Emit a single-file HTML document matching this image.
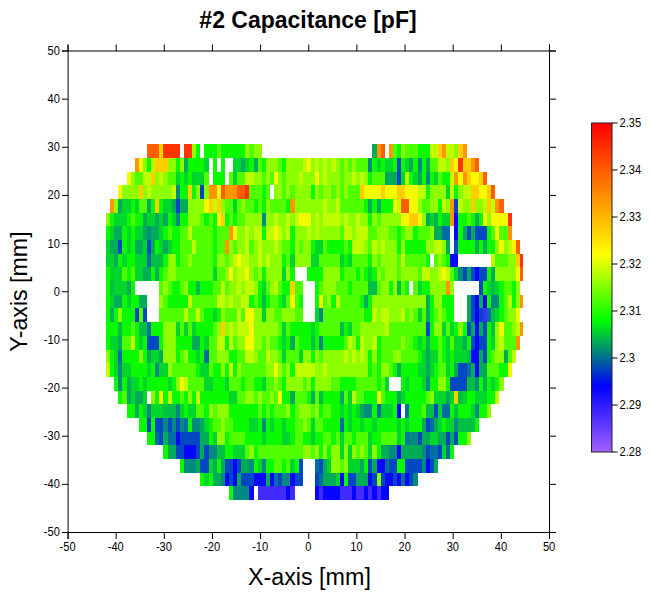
<!DOCTYPE html>
<html><head><meta charset="utf-8"><title>#2 Capacitance [pF]</title>
<style>
html,body{margin:0;padding:0;background:#fff;}
body{width:651px;height:600px;overflow:hidden;font-family:"Liberation Sans",sans-serif;}
svg{display:block;}
text{font-family:"Liberation Sans",sans-serif;fill:#000;}
</style></head><body>
<svg width="651" height="600" viewBox="0 0 651 600">
<defs>
<linearGradient id="cb" x1="0" y1="0" x2="0" y2="1">
<stop offset="0" stop-color="#ff0000"/>
<stop offset="0.2" stop-color="#ff8000"/>
<stop offset="0.4" stop-color="#ffff00"/>
<stop offset="0.6" stop-color="#00ff00"/>
<stop offset="0.7" stop-color="#008080"/>
<stop offset="0.8" stop-color="#0000ff"/>
<stop offset="1" stop-color="#a060ff"/>
</linearGradient>
</defs>
<rect width="651" height="600" fill="#fff"/>
<g shape-rendering="crispEdges">
<rect x="147.04" y="144.2" width="12.29" height="13.69" fill="#ff5f00"/>
<rect x="159.33" y="144.2" width="4.1" height="13.69" fill="#ffcd00"/>
<rect x="163.43" y="144.2" width="16.39" height="13.69" fill="#ff3400"/>
<rect x="183.92" y="144.2" width="8.2" height="13.69" fill="#ff3400"/>
<rect x="192.12" y="144.2" width="4.1" height="13.69" fill="#8eff00"/>
<rect x="196.22" y="144.2" width="4.09" height="13.69" fill="#0afa00"/>
<rect x="204.41" y="144.2" width="12.3" height="13.69" fill="#0afa00"/>
<rect x="216.71" y="144.2" width="4.09" height="13.69" fill="#50ff00"/>
<rect x="220.8" y="144.2" width="24.59" height="13.69" fill="#0afa00"/>
<rect x="245.39" y="144.2" width="4.1" height="13.69" fill="#8eff00"/>
<rect x="249.49" y="144.2" width="4.1" height="13.69" fill="#50ff00"/>
<rect x="253.59" y="144.2" width="8.19" height="13.69" fill="#8eff00"/>
<rect x="372.43" y="144.2" width="4.1" height="13.69" fill="#00ac58"/>
<rect x="376.53" y="144.2" width="4.1" height="13.69" fill="#ff9600"/>
<rect x="380.63" y="144.2" width="4.09" height="13.69" fill="#ff5f00"/>
<rect x="388.82" y="144.2" width="4.1" height="13.69" fill="#ff9600"/>
<rect x="392.92" y="144.2" width="4.1" height="13.69" fill="#50ff00"/>
<rect x="397.02" y="144.2" width="4.1" height="13.69" fill="#0afa00"/>
<rect x="401.12" y="144.2" width="4.09" height="13.69" fill="#8eff00"/>
<rect x="405.21" y="144.2" width="12.3" height="13.69" fill="#50ff00"/>
<rect x="417.51" y="144.2" width="12.29" height="13.69" fill="#0afa00"/>
<rect x="429.8" y="144.2" width="8.2" height="13.69" fill="#c0ff00"/>
<rect x="438" y="144.2" width="4.1" height="13.69" fill="#ffcd00"/>
<rect x="442.1" y="144.2" width="4.09" height="13.69" fill="#ff9600"/>
<rect x="446.19" y="144.2" width="8.2" height="13.69" fill="#c0ff00"/>
<rect x="454.39" y="144.2" width="4.1" height="13.69" fill="#8eff00"/>
<rect x="458.49" y="144.2" width="4.1" height="13.69" fill="#ffcd00"/>
<rect x="462.59" y="144.2" width="4.09" height="13.69" fill="#ff9600"/>
<rect x="134.75" y="157.89" width="4.09" height="13.69" fill="#ff9600"/>
<rect x="138.84" y="157.89" width="4.1" height="13.69" fill="#f6fa00"/>
<rect x="142.94" y="157.89" width="4.1" height="13.69" fill="#8eff00"/>
<rect x="147.04" y="157.89" width="4.1" height="13.69" fill="#0afa00"/>
<rect x="151.14" y="157.89" width="4.1" height="13.69" fill="#c0ff00"/>
<rect x="155.24" y="157.89" width="12.29" height="13.69" fill="#ffcd00"/>
<rect x="167.53" y="157.89" width="8.2" height="13.69" fill="#8eff00"/>
<rect x="175.73" y="157.89" width="4.09" height="13.69" fill="#0afa00"/>
<rect x="179.82" y="157.89" width="4.1" height="13.69" fill="#8eff00"/>
<rect x="183.92" y="157.89" width="4.1" height="13.69" fill="#00ac58"/>
<rect x="188.02" y="157.89" width="16.39" height="13.69" fill="#0afa00"/>
<rect x="204.41" y="157.89" width="4.1" height="13.69" fill="#00d72d"/>
<rect x="212.61" y="157.89" width="4.1" height="13.69" fill="#0afa00"/>
<rect x="220.8" y="157.89" width="4.1" height="13.69" fill="#0afa00"/>
<rect x="233.1" y="157.89" width="8.19" height="13.69" fill="#00d72d"/>
<rect x="241.29" y="157.89" width="4.1" height="13.69" fill="#00ac58"/>
<rect x="245.39" y="157.89" width="4.1" height="13.69" fill="#00d72d"/>
<rect x="249.49" y="157.89" width="4.1" height="13.69" fill="#0afa00"/>
<rect x="253.59" y="157.89" width="4.1" height="13.69" fill="#00ac58"/>
<rect x="257.69" y="157.89" width="4.09" height="13.69" fill="#50ff00"/>
<rect x="261.78" y="157.89" width="4.1" height="13.69" fill="#0afa00"/>
<rect x="265.88" y="157.89" width="12.3" height="13.69" fill="#8eff00"/>
<rect x="278.18" y="157.89" width="4.09" height="13.69" fill="#50ff00"/>
<rect x="282.27" y="157.89" width="4.1" height="13.69" fill="#0afa00"/>
<rect x="286.37" y="157.89" width="16.39" height="13.69" fill="#8eff00"/>
<rect x="302.76" y="157.89" width="4.1" height="13.69" fill="#c0ff00"/>
<rect x="306.86" y="157.89" width="4.1" height="13.69" fill="#f6fa00"/>
<rect x="310.96" y="157.89" width="4.1" height="13.69" fill="#8eff00"/>
<rect x="315.06" y="157.89" width="4.1" height="13.69" fill="#c0ff00"/>
<rect x="319.16" y="157.89" width="4.09" height="13.69" fill="#8eff00"/>
<rect x="323.25" y="157.89" width="4.1" height="13.69" fill="#c0ff00"/>
<rect x="327.35" y="157.89" width="4.1" height="13.69" fill="#8eff00"/>
<rect x="331.45" y="157.89" width="4.1" height="13.69" fill="#c0ff00"/>
<rect x="335.55" y="157.89" width="4.1" height="13.69" fill="#8eff00"/>
<rect x="339.65" y="157.89" width="4.09" height="13.69" fill="#50ff00"/>
<rect x="343.74" y="157.89" width="4.1" height="13.69" fill="#8eff00"/>
<rect x="347.84" y="157.89" width="4.1" height="13.69" fill="#50ff00"/>
<rect x="351.94" y="157.89" width="4.1" height="13.69" fill="#8eff00"/>
<rect x="356.04" y="157.89" width="12.29" height="13.69" fill="#50ff00"/>
<rect x="368.33" y="157.89" width="4.1" height="13.69" fill="#008a80"/>
<rect x="372.43" y="157.89" width="4.1" height="13.69" fill="#0afa00"/>
<rect x="376.53" y="157.89" width="4.1" height="13.69" fill="#00d72d"/>
<rect x="380.63" y="157.89" width="4.09" height="13.69" fill="#0afa00"/>
<rect x="384.72" y="157.89" width="8.2" height="13.69" fill="#00d72d"/>
<rect x="392.92" y="157.89" width="4.1" height="13.69" fill="#0afa00"/>
<rect x="397.02" y="157.89" width="4.1" height="13.69" fill="#0048c3"/>
<rect x="401.12" y="157.89" width="4.09" height="13.69" fill="#0afa00"/>
<rect x="405.21" y="157.89" width="4.1" height="13.69" fill="#00d72d"/>
<rect x="409.31" y="157.89" width="4.1" height="13.69" fill="#00ac58"/>
<rect x="413.41" y="157.89" width="4.1" height="13.69" fill="#0afa00"/>
<rect x="417.51" y="157.89" width="4.1" height="13.69" fill="#008a80"/>
<rect x="421.61" y="157.89" width="4.09" height="13.69" fill="#0afa00"/>
<rect x="425.7" y="157.89" width="4.1" height="13.69" fill="#00ac58"/>
<rect x="429.8" y="157.89" width="8.2" height="13.69" fill="#50ff00"/>
<rect x="438" y="157.89" width="8.19" height="13.69" fill="#c0ff00"/>
<rect x="446.19" y="157.89" width="4.1" height="13.69" fill="#8eff00"/>
<rect x="450.29" y="157.89" width="4.1" height="13.69" fill="#ffcd00"/>
<rect x="454.39" y="157.89" width="4.1" height="13.69" fill="#f6fa00"/>
<rect x="458.49" y="157.89" width="4.1" height="13.69" fill="#ff3400"/>
<rect x="462.59" y="157.89" width="8.19" height="13.69" fill="#ffcd00"/>
<rect x="470.78" y="157.89" width="4.1" height="13.69" fill="#ff9600"/>
<rect x="474.88" y="157.89" width="4.1" height="13.69" fill="#ff5f00"/>
<rect x="126.55" y="171.58" width="4.1" height="13.69" fill="#f6fa00"/>
<rect x="130.65" y="171.58" width="4.1" height="13.69" fill="#8eff00"/>
<rect x="134.75" y="171.58" width="8.19" height="13.69" fill="#50ff00"/>
<rect x="142.94" y="171.58" width="8.2" height="13.69" fill="#c0ff00"/>
<rect x="151.14" y="171.58" width="4.1" height="13.69" fill="#ffcd00"/>
<rect x="155.24" y="171.58" width="4.09" height="13.69" fill="#8eff00"/>
<rect x="159.33" y="171.58" width="4.1" height="13.69" fill="#c0ff00"/>
<rect x="163.43" y="171.58" width="4.1" height="13.69" fill="#8eff00"/>
<rect x="167.53" y="171.58" width="8.2" height="13.69" fill="#50ff00"/>
<rect x="175.73" y="171.58" width="4.09" height="13.69" fill="#00d72d"/>
<rect x="179.82" y="171.58" width="4.1" height="13.69" fill="#0afa00"/>
<rect x="183.92" y="171.58" width="4.1" height="13.69" fill="#00d72d"/>
<rect x="188.02" y="171.58" width="4.1" height="13.69" fill="#0afa00"/>
<rect x="192.12" y="171.58" width="12.29" height="13.69" fill="#00d72d"/>
<rect x="204.41" y="171.58" width="4.1" height="13.69" fill="#50ff00"/>
<rect x="212.61" y="171.58" width="12.29" height="13.69" fill="#0afa00"/>
<rect x="229" y="171.58" width="4.1" height="13.69" fill="#50ff00"/>
<rect x="233.1" y="171.58" width="4.1" height="13.69" fill="#00d72d"/>
<rect x="237.2" y="171.58" width="8.19" height="13.69" fill="#50ff00"/>
<rect x="245.39" y="171.58" width="8.2" height="13.69" fill="#c0ff00"/>
<rect x="253.59" y="171.58" width="8.19" height="13.69" fill="#8eff00"/>
<rect x="261.78" y="171.58" width="4.1" height="13.69" fill="#50ff00"/>
<rect x="265.88" y="171.58" width="4.1" height="13.69" fill="#8eff00"/>
<rect x="269.98" y="171.58" width="4.1" height="13.69" fill="#50ff00"/>
<rect x="274.08" y="171.58" width="4.1" height="13.69" fill="#f6fa00"/>
<rect x="278.18" y="171.58" width="4.09" height="13.69" fill="#8eff00"/>
<rect x="282.27" y="171.58" width="4.1" height="13.69" fill="#50ff00"/>
<rect x="286.37" y="171.58" width="12.3" height="13.69" fill="#8eff00"/>
<rect x="298.67" y="171.58" width="4.09" height="13.69" fill="#c0ff00"/>
<rect x="302.76" y="171.58" width="12.3" height="13.69" fill="#8eff00"/>
<rect x="315.06" y="171.58" width="4.1" height="13.69" fill="#f6fa00"/>
<rect x="319.16" y="171.58" width="4.09" height="13.69" fill="#8eff00"/>
<rect x="323.25" y="171.58" width="4.1" height="13.69" fill="#c0ff00"/>
<rect x="327.35" y="171.58" width="12.3" height="13.69" fill="#8eff00"/>
<rect x="339.65" y="171.58" width="4.09" height="13.69" fill="#50ff00"/>
<rect x="343.74" y="171.58" width="8.2" height="13.69" fill="#8eff00"/>
<rect x="351.94" y="171.58" width="4.1" height="13.69" fill="#c0ff00"/>
<rect x="356.04" y="171.58" width="4.1" height="13.69" fill="#8eff00"/>
<rect x="360.14" y="171.58" width="4.09" height="13.69" fill="#c0ff00"/>
<rect x="364.23" y="171.58" width="4.1" height="13.69" fill="#8eff00"/>
<rect x="368.33" y="171.58" width="4.1" height="13.69" fill="#0afa00"/>
<rect x="372.43" y="171.58" width="12.29" height="13.69" fill="#50ff00"/>
<rect x="384.72" y="171.58" width="12.3" height="13.69" fill="#00ac58"/>
<rect x="397.02" y="171.58" width="4.1" height="13.69" fill="#0048c3"/>
<rect x="401.12" y="171.58" width="4.09" height="13.69" fill="#00d72d"/>
<rect x="405.21" y="171.58" width="4.1" height="13.69" fill="#c0ff00"/>
<rect x="409.31" y="171.58" width="4.1" height="13.69" fill="#0afa00"/>
<rect x="413.41" y="171.58" width="4.1" height="13.69" fill="#00d72d"/>
<rect x="417.51" y="171.58" width="4.1" height="13.69" fill="#00ac58"/>
<rect x="421.61" y="171.58" width="4.09" height="13.69" fill="#0afa00"/>
<rect x="425.7" y="171.58" width="4.1" height="13.69" fill="#008a80"/>
<rect x="429.8" y="171.58" width="4.1" height="13.69" fill="#0afa00"/>
<rect x="433.9" y="171.58" width="4.1" height="13.69" fill="#00d72d"/>
<rect x="438" y="171.58" width="4.1" height="13.69" fill="#50ff00"/>
<rect x="442.1" y="171.58" width="8.19" height="13.69" fill="#0afa00"/>
<rect x="450.29" y="171.58" width="4.1" height="13.69" fill="#c0ff00"/>
<rect x="454.39" y="171.58" width="4.1" height="13.69" fill="#ff9600"/>
<rect x="458.49" y="171.58" width="4.1" height="13.69" fill="#f6fa00"/>
<rect x="462.59" y="171.58" width="4.09" height="13.69" fill="#ff9600"/>
<rect x="466.68" y="171.58" width="4.1" height="13.69" fill="#ffcd00"/>
<rect x="470.78" y="171.58" width="8.2" height="13.69" fill="#f6fa00"/>
<rect x="478.98" y="171.58" width="4.1" height="13.69" fill="#ffcd00"/>
<rect x="483.08" y="171.58" width="4.09" height="13.69" fill="#ff5f00"/>
<rect x="118.35" y="185.27" width="4.1" height="13.69" fill="#f6fa00"/>
<rect x="122.45" y="185.27" width="16.39" height="13.69" fill="#8eff00"/>
<rect x="138.84" y="185.27" width="4.1" height="13.69" fill="#ffcd00"/>
<rect x="142.94" y="185.27" width="4.1" height="13.69" fill="#8eff00"/>
<rect x="147.04" y="185.27" width="4.1" height="13.69" fill="#c0ff00"/>
<rect x="151.14" y="185.27" width="20.49" height="13.69" fill="#8eff00"/>
<rect x="171.63" y="185.27" width="4.1" height="13.69" fill="#c0ff00"/>
<rect x="175.73" y="185.27" width="4.09" height="13.69" fill="#008a80"/>
<rect x="179.82" y="185.27" width="8.2" height="13.69" fill="#0afa00"/>
<rect x="188.02" y="185.27" width="4.1" height="13.69" fill="#ffcd00"/>
<rect x="192.12" y="185.27" width="4.1" height="13.69" fill="#0afa00"/>
<rect x="196.22" y="185.27" width="4.09" height="13.69" fill="#8eff00"/>
<rect x="200.31" y="185.27" width="4.1" height="13.69" fill="#0048c3"/>
<rect x="204.41" y="185.27" width="4.1" height="13.69" fill="#8eff00"/>
<rect x="208.51" y="185.27" width="8.2" height="13.69" fill="#ff9600"/>
<rect x="216.71" y="185.27" width="4.09" height="13.69" fill="#f6fa00"/>
<rect x="220.8" y="185.27" width="4.1" height="13.69" fill="#ff5f00"/>
<rect x="224.9" y="185.27" width="12.3" height="13.69" fill="#ff9600"/>
<rect x="237.2" y="185.27" width="8.19" height="13.69" fill="#ff5f00"/>
<rect x="245.39" y="185.27" width="4.1" height="13.69" fill="#ff3400"/>
<rect x="249.49" y="185.27" width="12.29" height="13.69" fill="#50ff00"/>
<rect x="261.78" y="185.27" width="4.1" height="13.69" fill="#0afa00"/>
<rect x="265.88" y="185.27" width="4.1" height="13.69" fill="#50ff00"/>
<rect x="274.08" y="185.27" width="8.19" height="13.69" fill="#8eff00"/>
<rect x="282.27" y="185.27" width="4.1" height="13.69" fill="#50ff00"/>
<rect x="286.37" y="185.27" width="4.1" height="13.69" fill="#8eff00"/>
<rect x="290.47" y="185.27" width="4.1" height="13.69" fill="#50ff00"/>
<rect x="294.57" y="185.27" width="16.39" height="13.69" fill="#8eff00"/>
<rect x="310.96" y="185.27" width="4.1" height="13.69" fill="#0afa00"/>
<rect x="315.06" y="185.27" width="4.1" height="13.69" fill="#8eff00"/>
<rect x="319.16" y="185.27" width="4.09" height="13.69" fill="#50ff00"/>
<rect x="323.25" y="185.27" width="8.2" height="13.69" fill="#8eff00"/>
<rect x="331.45" y="185.27" width="4.1" height="13.69" fill="#50ff00"/>
<rect x="335.55" y="185.27" width="4.1" height="13.69" fill="#8eff00"/>
<rect x="339.65" y="185.27" width="4.09" height="13.69" fill="#50ff00"/>
<rect x="343.74" y="185.27" width="4.1" height="13.69" fill="#8eff00"/>
<rect x="347.84" y="185.27" width="12.3" height="13.69" fill="#50ff00"/>
<rect x="360.14" y="185.27" width="4.09" height="13.69" fill="#ffcd00"/>
<rect x="364.23" y="185.27" width="16.4" height="13.69" fill="#f6fa00"/>
<rect x="380.63" y="185.27" width="4.09" height="13.69" fill="#ffcd00"/>
<rect x="384.72" y="185.27" width="12.3" height="13.69" fill="#f6fa00"/>
<rect x="397.02" y="185.27" width="8.19" height="13.69" fill="#ffcd00"/>
<rect x="405.21" y="185.27" width="12.3" height="13.69" fill="#f6fa00"/>
<rect x="417.51" y="185.27" width="8.19" height="13.69" fill="#c0ff00"/>
<rect x="425.7" y="185.27" width="4.1" height="13.69" fill="#0afa00"/>
<rect x="429.8" y="185.27" width="16.39" height="13.69" fill="#8eff00"/>
<rect x="446.19" y="185.27" width="4.1" height="13.69" fill="#00d72d"/>
<rect x="450.29" y="185.27" width="4.1" height="13.69" fill="#c0ff00"/>
<rect x="454.39" y="185.27" width="4.1" height="13.69" fill="#0afa00"/>
<rect x="458.49" y="185.27" width="4.1" height="13.69" fill="#8eff00"/>
<rect x="462.59" y="185.27" width="8.19" height="13.69" fill="#c0ff00"/>
<rect x="470.78" y="185.27" width="8.2" height="13.69" fill="#ffcd00"/>
<rect x="478.98" y="185.27" width="8.19" height="13.69" fill="#f6fa00"/>
<rect x="487.17" y="185.27" width="4.1" height="13.69" fill="#ffcd00"/>
<rect x="491.27" y="185.27" width="4.1" height="13.69" fill="#ff5f00"/>
<rect x="110.16" y="198.96" width="4.1" height="13.69" fill="#ff9600"/>
<rect x="114.26" y="198.96" width="4.09" height="13.69" fill="#8eff00"/>
<rect x="118.35" y="198.96" width="4.1" height="13.69" fill="#00ac58"/>
<rect x="122.45" y="198.96" width="8.2" height="13.69" fill="#00d72d"/>
<rect x="130.65" y="198.96" width="4.1" height="13.69" fill="#0afa00"/>
<rect x="134.75" y="198.96" width="4.09" height="13.69" fill="#00d72d"/>
<rect x="138.84" y="198.96" width="8.2" height="13.69" fill="#50ff00"/>
<rect x="147.04" y="198.96" width="4.1" height="13.69" fill="#00ac58"/>
<rect x="151.14" y="198.96" width="4.1" height="13.69" fill="#0afa00"/>
<rect x="155.24" y="198.96" width="4.09" height="13.69" fill="#ffcd00"/>
<rect x="159.33" y="198.96" width="4.1" height="13.69" fill="#0afa00"/>
<rect x="163.43" y="198.96" width="8.2" height="13.69" fill="#00d72d"/>
<rect x="171.63" y="198.96" width="4.1" height="13.69" fill="#00ac58"/>
<rect x="175.73" y="198.96" width="4.09" height="13.69" fill="#0048c3"/>
<rect x="179.82" y="198.96" width="8.2" height="13.69" fill="#00ac58"/>
<rect x="188.02" y="198.96" width="16.39" height="13.69" fill="#8eff00"/>
<rect x="204.41" y="198.96" width="4.1" height="13.69" fill="#f6fa00"/>
<rect x="208.51" y="198.96" width="4.1" height="13.69" fill="#ffcd00"/>
<rect x="212.61" y="198.96" width="4.1" height="13.69" fill="#c0ff00"/>
<rect x="216.71" y="198.96" width="4.09" height="13.69" fill="#ffcd00"/>
<rect x="220.8" y="198.96" width="4.1" height="13.69" fill="#8eff00"/>
<rect x="224.9" y="198.96" width="8.2" height="13.69" fill="#50ff00"/>
<rect x="233.1" y="198.96" width="4.1" height="13.69" fill="#00d72d"/>
<rect x="237.2" y="198.96" width="4.09" height="13.69" fill="#50ff00"/>
<rect x="241.29" y="198.96" width="4.1" height="13.69" fill="#8eff00"/>
<rect x="245.39" y="198.96" width="8.2" height="13.69" fill="#50ff00"/>
<rect x="253.59" y="198.96" width="4.1" height="13.69" fill="#0afa00"/>
<rect x="257.69" y="198.96" width="4.09" height="13.69" fill="#50ff00"/>
<rect x="261.78" y="198.96" width="4.1" height="13.69" fill="#0afa00"/>
<rect x="265.88" y="198.96" width="4.1" height="13.69" fill="#8eff00"/>
<rect x="269.98" y="198.96" width="16.39" height="13.69" fill="#50ff00"/>
<rect x="286.37" y="198.96" width="4.1" height="13.69" fill="#0afa00"/>
<rect x="290.47" y="198.96" width="4.1" height="13.69" fill="#ff9600"/>
<rect x="294.57" y="198.96" width="28.68" height="13.69" fill="#8eff00"/>
<rect x="323.25" y="198.96" width="4.1" height="13.69" fill="#c0ff00"/>
<rect x="327.35" y="198.96" width="8.2" height="13.69" fill="#8eff00"/>
<rect x="335.55" y="198.96" width="4.1" height="13.69" fill="#c0ff00"/>
<rect x="339.65" y="198.96" width="24.58" height="13.69" fill="#50ff00"/>
<rect x="364.23" y="198.96" width="4.1" height="13.69" fill="#0afa00"/>
<rect x="368.33" y="198.96" width="4.1" height="13.69" fill="#00ac58"/>
<rect x="372.43" y="198.96" width="4.1" height="13.69" fill="#0afa00"/>
<rect x="376.53" y="198.96" width="4.1" height="13.69" fill="#00ac58"/>
<rect x="380.63" y="198.96" width="12.29" height="13.69" fill="#0afa00"/>
<rect x="392.92" y="198.96" width="4.1" height="13.69" fill="#f6fa00"/>
<rect x="397.02" y="198.96" width="4.1" height="13.69" fill="#c0ff00"/>
<rect x="401.12" y="198.96" width="8.19" height="13.69" fill="#ff5f00"/>
<rect x="409.31" y="198.96" width="8.2" height="13.69" fill="#f6fa00"/>
<rect x="417.51" y="198.96" width="4.1" height="13.69" fill="#8eff00"/>
<rect x="421.61" y="198.96" width="8.19" height="13.69" fill="#50ff00"/>
<rect x="429.8" y="198.96" width="8.2" height="13.69" fill="#8eff00"/>
<rect x="438" y="198.96" width="4.1" height="13.69" fill="#0afa00"/>
<rect x="442.1" y="198.96" width="4.09" height="13.69" fill="#c0ff00"/>
<rect x="446.19" y="198.96" width="4.1" height="13.69" fill="#8eff00"/>
<rect x="450.29" y="198.96" width="4.1" height="13.69" fill="#ff9600"/>
<rect x="454.39" y="198.96" width="4.1" height="13.69" fill="#0048c3"/>
<rect x="458.49" y="198.96" width="4.1" height="13.69" fill="#c0ff00"/>
<rect x="462.59" y="198.96" width="8.19" height="13.69" fill="#8eff00"/>
<rect x="470.78" y="198.96" width="4.1" height="13.69" fill="#ffcd00"/>
<rect x="474.88" y="198.96" width="8.2" height="13.69" fill="#8eff00"/>
<rect x="483.08" y="198.96" width="4.09" height="13.69" fill="#c0ff00"/>
<rect x="487.17" y="198.96" width="4.1" height="13.69" fill="#ffcd00"/>
<rect x="491.27" y="198.96" width="4.1" height="13.69" fill="#c0ff00"/>
<rect x="495.37" y="198.96" width="4.1" height="13.69" fill="#ff9600"/>
<rect x="499.47" y="198.96" width="4.1" height="13.69" fill="#ff5f00"/>
<rect x="106.06" y="212.65" width="4.1" height="13.69" fill="#8eff00"/>
<rect x="110.16" y="212.65" width="4.1" height="13.69" fill="#0afa00"/>
<rect x="114.26" y="212.65" width="12.29" height="13.69" fill="#00d72d"/>
<rect x="126.55" y="212.65" width="4.1" height="13.69" fill="#0afa00"/>
<rect x="130.65" y="212.65" width="4.1" height="13.69" fill="#50ff00"/>
<rect x="134.75" y="212.65" width="8.19" height="13.69" fill="#0afa00"/>
<rect x="142.94" y="212.65" width="4.1" height="13.69" fill="#00ac58"/>
<rect x="147.04" y="212.65" width="8.2" height="13.69" fill="#00d72d"/>
<rect x="155.24" y="212.65" width="4.09" height="13.69" fill="#00ac58"/>
<rect x="159.33" y="212.65" width="4.1" height="13.69" fill="#00d72d"/>
<rect x="163.43" y="212.65" width="4.1" height="13.69" fill="#00ac58"/>
<rect x="167.53" y="212.65" width="4.1" height="13.69" fill="#0afa00"/>
<rect x="171.63" y="212.65" width="4.1" height="13.69" fill="#00d72d"/>
<rect x="175.73" y="212.65" width="4.09" height="13.69" fill="#008a80"/>
<rect x="179.82" y="212.65" width="8.2" height="13.69" fill="#0afa00"/>
<rect x="188.02" y="212.65" width="12.29" height="13.69" fill="#8eff00"/>
<rect x="200.31" y="212.65" width="4.1" height="13.69" fill="#50ff00"/>
<rect x="204.41" y="212.65" width="4.1" height="13.69" fill="#0afa00"/>
<rect x="208.51" y="212.65" width="4.1" height="13.69" fill="#50ff00"/>
<rect x="212.61" y="212.65" width="4.1" height="13.69" fill="#0afa00"/>
<rect x="216.71" y="212.65" width="4.09" height="13.69" fill="#f6fa00"/>
<rect x="220.8" y="212.65" width="4.1" height="13.69" fill="#ffcd00"/>
<rect x="224.9" y="212.65" width="4.1" height="13.69" fill="#0afa00"/>
<rect x="229" y="212.65" width="4.1" height="13.69" fill="#50ff00"/>
<rect x="233.1" y="212.65" width="4.1" height="13.69" fill="#0afa00"/>
<rect x="237.2" y="212.65" width="8.19" height="13.69" fill="#50ff00"/>
<rect x="245.39" y="212.65" width="16.39" height="13.69" fill="#8eff00"/>
<rect x="261.78" y="212.65" width="4.1" height="13.69" fill="#008a80"/>
<rect x="265.88" y="212.65" width="8.2" height="13.69" fill="#8eff00"/>
<rect x="274.08" y="212.65" width="4.1" height="13.69" fill="#c0ff00"/>
<rect x="278.18" y="212.65" width="8.19" height="13.69" fill="#8eff00"/>
<rect x="286.37" y="212.65" width="4.1" height="13.69" fill="#c0ff00"/>
<rect x="290.47" y="212.65" width="4.1" height="13.69" fill="#8eff00"/>
<rect x="294.57" y="212.65" width="4.1" height="13.69" fill="#c0ff00"/>
<rect x="298.67" y="212.65" width="12.29" height="13.69" fill="#f6fa00"/>
<rect x="310.96" y="212.65" width="4.1" height="13.69" fill="#8eff00"/>
<rect x="315.06" y="212.65" width="4.1" height="13.69" fill="#c0ff00"/>
<rect x="319.16" y="212.65" width="4.09" height="13.69" fill="#8eff00"/>
<rect x="323.25" y="212.65" width="16.4" height="13.69" fill="#c0ff00"/>
<rect x="339.65" y="212.65" width="4.09" height="13.69" fill="#8eff00"/>
<rect x="343.74" y="212.65" width="4.1" height="13.69" fill="#c0ff00"/>
<rect x="347.84" y="212.65" width="8.2" height="13.69" fill="#8eff00"/>
<rect x="356.04" y="212.65" width="4.1" height="13.69" fill="#c0ff00"/>
<rect x="360.14" y="212.65" width="8.19" height="13.69" fill="#8eff00"/>
<rect x="368.33" y="212.65" width="4.1" height="13.69" fill="#0afa00"/>
<rect x="372.43" y="212.65" width="4.1" height="13.69" fill="#8eff00"/>
<rect x="376.53" y="212.65" width="4.1" height="13.69" fill="#50ff00"/>
<rect x="380.63" y="212.65" width="20.49" height="13.69" fill="#8eff00"/>
<rect x="401.12" y="212.65" width="8.19" height="13.69" fill="#f6fa00"/>
<rect x="409.31" y="212.65" width="8.2" height="13.69" fill="#ffcd00"/>
<rect x="417.51" y="212.65" width="4.1" height="13.69" fill="#f6fa00"/>
<rect x="421.61" y="212.65" width="4.09" height="13.69" fill="#8eff00"/>
<rect x="425.7" y="212.65" width="4.1" height="13.69" fill="#00ac58"/>
<rect x="429.8" y="212.65" width="4.1" height="13.69" fill="#00d72d"/>
<rect x="433.9" y="212.65" width="4.1" height="13.69" fill="#00ac58"/>
<rect x="438" y="212.65" width="4.1" height="13.69" fill="#0afa00"/>
<rect x="442.1" y="212.65" width="8.19" height="13.69" fill="#00d72d"/>
<rect x="450.29" y="212.65" width="4.1" height="13.69" fill="#ff9600"/>
<rect x="454.39" y="212.65" width="4.1" height="13.69" fill="#0606ff"/>
<rect x="458.49" y="212.65" width="8.19" height="13.69" fill="#0afa00"/>
<rect x="466.68" y="212.65" width="4.1" height="13.69" fill="#50ff00"/>
<rect x="470.78" y="212.65" width="4.1" height="13.69" fill="#0afa00"/>
<rect x="474.88" y="212.65" width="4.1" height="13.69" fill="#00ac58"/>
<rect x="478.98" y="212.65" width="4.1" height="13.69" fill="#0afa00"/>
<rect x="483.08" y="212.65" width="4.09" height="13.69" fill="#f6fa00"/>
<rect x="487.17" y="212.65" width="4.1" height="13.69" fill="#8eff00"/>
<rect x="491.27" y="212.65" width="16.39" height="13.69" fill="#f6fa00"/>
<rect x="507.66" y="212.65" width="4.1" height="13.69" fill="#ff3400"/>
<rect x="106.06" y="226.34" width="4.1" height="13.69" fill="#0afa00"/>
<rect x="110.16" y="226.34" width="4.1" height="13.69" fill="#00d72d"/>
<rect x="114.26" y="226.34" width="8.19" height="13.69" fill="#00ac58"/>
<rect x="122.45" y="226.34" width="4.1" height="13.69" fill="#0afa00"/>
<rect x="126.55" y="226.34" width="4.1" height="13.69" fill="#00d72d"/>
<rect x="130.65" y="226.34" width="4.1" height="13.69" fill="#0afa00"/>
<rect x="134.75" y="226.34" width="8.19" height="13.69" fill="#00d72d"/>
<rect x="142.94" y="226.34" width="4.1" height="13.69" fill="#00ac58"/>
<rect x="147.04" y="226.34" width="4.1" height="13.69" fill="#008a80"/>
<rect x="151.14" y="226.34" width="8.19" height="13.69" fill="#00ac58"/>
<rect x="159.33" y="226.34" width="4.1" height="13.69" fill="#00d72d"/>
<rect x="163.43" y="226.34" width="4.1" height="13.69" fill="#0afa00"/>
<rect x="167.53" y="226.34" width="4.1" height="13.69" fill="#50ff00"/>
<rect x="171.63" y="226.34" width="8.19" height="13.69" fill="#0afa00"/>
<rect x="179.82" y="226.34" width="8.2" height="13.69" fill="#50ff00"/>
<rect x="188.02" y="226.34" width="4.1" height="13.69" fill="#c0ff00"/>
<rect x="192.12" y="226.34" width="20.49" height="13.69" fill="#50ff00"/>
<rect x="212.61" y="226.34" width="4.1" height="13.69" fill="#0afa00"/>
<rect x="216.71" y="226.34" width="12.29" height="13.69" fill="#50ff00"/>
<rect x="229" y="226.34" width="4.1" height="13.69" fill="#ff9600"/>
<rect x="233.1" y="226.34" width="4.1" height="13.69" fill="#f6fa00"/>
<rect x="237.2" y="226.34" width="8.19" height="13.69" fill="#8eff00"/>
<rect x="245.39" y="226.34" width="4.1" height="13.69" fill="#c0ff00"/>
<rect x="249.49" y="226.34" width="4.1" height="13.69" fill="#8eff00"/>
<rect x="253.59" y="226.34" width="8.19" height="13.69" fill="#c0ff00"/>
<rect x="261.78" y="226.34" width="4.1" height="13.69" fill="#0afa00"/>
<rect x="265.88" y="226.34" width="8.2" height="13.69" fill="#c0ff00"/>
<rect x="274.08" y="226.34" width="4.1" height="13.69" fill="#f6fa00"/>
<rect x="278.18" y="226.34" width="4.09" height="13.69" fill="#c0ff00"/>
<rect x="282.27" y="226.34" width="4.1" height="13.69" fill="#8eff00"/>
<rect x="286.37" y="226.34" width="4.1" height="13.69" fill="#c0ff00"/>
<rect x="290.47" y="226.34" width="4.1" height="13.69" fill="#0afa00"/>
<rect x="294.57" y="226.34" width="12.29" height="13.69" fill="#8eff00"/>
<rect x="306.86" y="226.34" width="4.1" height="13.69" fill="#c0ff00"/>
<rect x="310.96" y="226.34" width="4.1" height="13.69" fill="#8eff00"/>
<rect x="315.06" y="226.34" width="4.1" height="13.69" fill="#c0ff00"/>
<rect x="319.16" y="226.34" width="20.49" height="13.69" fill="#8eff00"/>
<rect x="339.65" y="226.34" width="4.09" height="13.69" fill="#50ff00"/>
<rect x="343.74" y="226.34" width="8.2" height="13.69" fill="#c0ff00"/>
<rect x="351.94" y="226.34" width="4.1" height="13.69" fill="#8eff00"/>
<rect x="356.04" y="226.34" width="12.29" height="13.69" fill="#c0ff00"/>
<rect x="368.33" y="226.34" width="8.2" height="13.69" fill="#50ff00"/>
<rect x="376.53" y="226.34" width="12.29" height="13.69" fill="#8eff00"/>
<rect x="388.82" y="226.34" width="8.2" height="13.69" fill="#50ff00"/>
<rect x="397.02" y="226.34" width="4.1" height="13.69" fill="#0afa00"/>
<rect x="401.12" y="226.34" width="4.09" height="13.69" fill="#50ff00"/>
<rect x="405.21" y="226.34" width="8.2" height="13.69" fill="#8eff00"/>
<rect x="413.41" y="226.34" width="4.1" height="13.69" fill="#0afa00"/>
<rect x="417.51" y="226.34" width="12.29" height="13.69" fill="#50ff00"/>
<rect x="429.8" y="226.34" width="4.1" height="13.69" fill="#8eff00"/>
<rect x="433.9" y="226.34" width="8.2" height="13.69" fill="#00ac58"/>
<rect x="442.1" y="226.34" width="8.19" height="13.69" fill="#006ea0"/>
<rect x="454.39" y="226.34" width="4.1" height="13.69" fill="#0606ff"/>
<rect x="458.49" y="226.34" width="4.1" height="13.69" fill="#0afa00"/>
<rect x="462.59" y="226.34" width="4.09" height="13.69" fill="#00ac58"/>
<rect x="466.68" y="226.34" width="4.1" height="13.69" fill="#0048c3"/>
<rect x="470.78" y="226.34" width="4.1" height="13.69" fill="#00ac58"/>
<rect x="474.88" y="226.34" width="12.29" height="13.69" fill="#0048c3"/>
<rect x="487.17" y="226.34" width="4.1" height="13.69" fill="#0afa00"/>
<rect x="491.27" y="226.34" width="4.1" height="13.69" fill="#50ff00"/>
<rect x="495.37" y="226.34" width="4.1" height="13.69" fill="#f6fa00"/>
<rect x="499.47" y="226.34" width="8.19" height="13.69" fill="#50ff00"/>
<rect x="507.66" y="226.34" width="4.1" height="13.69" fill="#ff9600"/>
<rect x="106.06" y="240.03" width="4.1" height="13.69" fill="#00d72d"/>
<rect x="110.16" y="240.03" width="8.19" height="13.69" fill="#00ac58"/>
<rect x="118.35" y="240.03" width="4.1" height="13.69" fill="#0048c3"/>
<rect x="122.45" y="240.03" width="4.1" height="13.69" fill="#0afa00"/>
<rect x="126.55" y="240.03" width="4.1" height="13.69" fill="#00d72d"/>
<rect x="130.65" y="240.03" width="4.1" height="13.69" fill="#0afa00"/>
<rect x="134.75" y="240.03" width="8.19" height="13.69" fill="#00ac58"/>
<rect x="142.94" y="240.03" width="4.1" height="13.69" fill="#00d72d"/>
<rect x="147.04" y="240.03" width="4.1" height="13.69" fill="#0048c3"/>
<rect x="151.14" y="240.03" width="4.1" height="13.69" fill="#00ac58"/>
<rect x="155.24" y="240.03" width="4.09" height="13.69" fill="#0afa00"/>
<rect x="159.33" y="240.03" width="4.1" height="13.69" fill="#00d72d"/>
<rect x="163.43" y="240.03" width="4.1" height="13.69" fill="#00ac58"/>
<rect x="167.53" y="240.03" width="4.1" height="13.69" fill="#00d72d"/>
<rect x="171.63" y="240.03" width="8.19" height="13.69" fill="#0afa00"/>
<rect x="179.82" y="240.03" width="12.3" height="13.69" fill="#50ff00"/>
<rect x="192.12" y="240.03" width="4.1" height="13.69" fill="#c0ff00"/>
<rect x="196.22" y="240.03" width="16.39" height="13.69" fill="#50ff00"/>
<rect x="212.61" y="240.03" width="4.1" height="13.69" fill="#0afa00"/>
<rect x="216.71" y="240.03" width="8.19" height="13.69" fill="#50ff00"/>
<rect x="224.9" y="240.03" width="4.1" height="13.69" fill="#ff9600"/>
<rect x="229" y="240.03" width="4.1" height="13.69" fill="#8eff00"/>
<rect x="233.1" y="240.03" width="4.1" height="13.69" fill="#50ff00"/>
<rect x="237.2" y="240.03" width="8.19" height="13.69" fill="#8eff00"/>
<rect x="245.39" y="240.03" width="4.1" height="13.69" fill="#c0ff00"/>
<rect x="249.49" y="240.03" width="4.1" height="13.69" fill="#50ff00"/>
<rect x="253.59" y="240.03" width="4.1" height="13.69" fill="#8eff00"/>
<rect x="257.69" y="240.03" width="4.09" height="13.69" fill="#c0ff00"/>
<rect x="261.78" y="240.03" width="12.3" height="13.69" fill="#8eff00"/>
<rect x="274.08" y="240.03" width="4.1" height="13.69" fill="#c0ff00"/>
<rect x="278.18" y="240.03" width="4.09" height="13.69" fill="#8eff00"/>
<rect x="282.27" y="240.03" width="8.2" height="13.69" fill="#50ff00"/>
<rect x="290.47" y="240.03" width="4.1" height="13.69" fill="#0afa00"/>
<rect x="294.57" y="240.03" width="4.1" height="13.69" fill="#8eff00"/>
<rect x="298.67" y="240.03" width="4.09" height="13.69" fill="#50ff00"/>
<rect x="302.76" y="240.03" width="8.2" height="13.69" fill="#8eff00"/>
<rect x="310.96" y="240.03" width="4.1" height="13.69" fill="#0afa00"/>
<rect x="315.06" y="240.03" width="8.19" height="13.69" fill="#00d72d"/>
<rect x="323.25" y="240.03" width="4.1" height="13.69" fill="#50ff00"/>
<rect x="327.35" y="240.03" width="16.39" height="13.69" fill="#0afa00"/>
<rect x="343.74" y="240.03" width="4.1" height="13.69" fill="#50ff00"/>
<rect x="347.84" y="240.03" width="4.1" height="13.69" fill="#0afa00"/>
<rect x="351.94" y="240.03" width="12.29" height="13.69" fill="#c0ff00"/>
<rect x="364.23" y="240.03" width="4.1" height="13.69" fill="#8eff00"/>
<rect x="368.33" y="240.03" width="4.1" height="13.69" fill="#50ff00"/>
<rect x="372.43" y="240.03" width="4.1" height="13.69" fill="#c0ff00"/>
<rect x="376.53" y="240.03" width="4.1" height="13.69" fill="#8eff00"/>
<rect x="380.63" y="240.03" width="4.09" height="13.69" fill="#c0ff00"/>
<rect x="384.72" y="240.03" width="12.3" height="13.69" fill="#8eff00"/>
<rect x="397.02" y="240.03" width="4.1" height="13.69" fill="#0afa00"/>
<rect x="401.12" y="240.03" width="4.09" height="13.69" fill="#8eff00"/>
<rect x="405.21" y="240.03" width="20.49" height="13.69" fill="#0afa00"/>
<rect x="425.7" y="240.03" width="8.2" height="13.69" fill="#8eff00"/>
<rect x="433.9" y="240.03" width="8.2" height="13.69" fill="#c0ff00"/>
<rect x="442.1" y="240.03" width="4.09" height="13.69" fill="#8eff00"/>
<rect x="446.19" y="240.03" width="4.1" height="13.69" fill="#00ac58"/>
<rect x="454.39" y="240.03" width="4.1" height="13.69" fill="#0048c3"/>
<rect x="458.49" y="240.03" width="16.39" height="13.69" fill="#0afa00"/>
<rect x="474.88" y="240.03" width="4.1" height="13.69" fill="#00ac58"/>
<rect x="478.98" y="240.03" width="4.1" height="13.69" fill="#0afa00"/>
<rect x="483.08" y="240.03" width="4.09" height="13.69" fill="#00ac58"/>
<rect x="487.17" y="240.03" width="8.2" height="13.69" fill="#0afa00"/>
<rect x="495.37" y="240.03" width="4.1" height="13.69" fill="#8eff00"/>
<rect x="499.47" y="240.03" width="4.1" height="13.69" fill="#f6fa00"/>
<rect x="503.57" y="240.03" width="4.09" height="13.69" fill="#8eff00"/>
<rect x="507.66" y="240.03" width="4.1" height="13.69" fill="#c0ff00"/>
<rect x="511.76" y="240.03" width="4.1" height="13.69" fill="#f6fa00"/>
<rect x="515.86" y="240.03" width="4.1" height="13.69" fill="#ff5f00"/>
<rect x="106.06" y="253.72" width="8.2" height="13.69" fill="#00d72d"/>
<rect x="114.26" y="253.72" width="4.09" height="13.69" fill="#00ac58"/>
<rect x="118.35" y="253.72" width="4.1" height="13.69" fill="#0afa00"/>
<rect x="122.45" y="253.72" width="4.1" height="13.69" fill="#00d72d"/>
<rect x="126.55" y="253.72" width="8.2" height="13.69" fill="#0afa00"/>
<rect x="134.75" y="253.72" width="12.29" height="13.69" fill="#00d72d"/>
<rect x="147.04" y="253.72" width="4.1" height="13.69" fill="#006ea0"/>
<rect x="151.14" y="253.72" width="12.29" height="13.69" fill="#00c044"/>
<rect x="163.43" y="253.72" width="4.1" height="13.69" fill="#0afa00"/>
<rect x="167.53" y="253.72" width="8.2" height="13.69" fill="#8eff00"/>
<rect x="175.73" y="253.72" width="4.09" height="13.69" fill="#0afa00"/>
<rect x="179.82" y="253.72" width="8.2" height="13.69" fill="#50ff00"/>
<rect x="188.02" y="253.72" width="4.1" height="13.69" fill="#8eff00"/>
<rect x="192.12" y="253.72" width="20.49" height="13.69" fill="#50ff00"/>
<rect x="212.61" y="253.72" width="4.1" height="13.69" fill="#0afa00"/>
<rect x="216.71" y="253.72" width="8.19" height="13.69" fill="#8eff00"/>
<rect x="224.9" y="253.72" width="4.1" height="13.69" fill="#50ff00"/>
<rect x="229" y="253.72" width="4.1" height="13.69" fill="#8eff00"/>
<rect x="233.1" y="253.72" width="4.1" height="13.69" fill="#c0ff00"/>
<rect x="237.2" y="253.72" width="4.09" height="13.69" fill="#f6fa00"/>
<rect x="241.29" y="253.72" width="8.2" height="13.69" fill="#c0ff00"/>
<rect x="249.49" y="253.72" width="8.2" height="13.69" fill="#8eff00"/>
<rect x="257.69" y="253.72" width="4.09" height="13.69" fill="#c0ff00"/>
<rect x="261.78" y="253.72" width="4.1" height="13.69" fill="#8eff00"/>
<rect x="265.88" y="253.72" width="4.1" height="13.69" fill="#c0ff00"/>
<rect x="269.98" y="253.72" width="12.29" height="13.69" fill="#8eff00"/>
<rect x="282.27" y="253.72" width="4.1" height="13.69" fill="#0afa00"/>
<rect x="286.37" y="253.72" width="4.1" height="13.69" fill="#50ff00"/>
<rect x="290.47" y="253.72" width="4.1" height="13.69" fill="#00d72d"/>
<rect x="294.57" y="253.72" width="16.39" height="13.69" fill="#8eff00"/>
<rect x="310.96" y="253.72" width="8.2" height="13.69" fill="#00d72d"/>
<rect x="319.16" y="253.72" width="20.49" height="13.69" fill="#50ff00"/>
<rect x="339.65" y="253.72" width="4.09" height="13.69" fill="#00d72d"/>
<rect x="343.74" y="253.72" width="4.1" height="13.69" fill="#0afa00"/>
<rect x="347.84" y="253.72" width="4.1" height="13.69" fill="#00d72d"/>
<rect x="351.94" y="253.72" width="16.39" height="13.69" fill="#50ff00"/>
<rect x="368.33" y="253.72" width="4.1" height="13.69" fill="#0afa00"/>
<rect x="372.43" y="253.72" width="4.1" height="13.69" fill="#8eff00"/>
<rect x="376.53" y="253.72" width="4.1" height="13.69" fill="#50ff00"/>
<rect x="380.63" y="253.72" width="16.39" height="13.69" fill="#8eff00"/>
<rect x="397.02" y="253.72" width="4.1" height="13.69" fill="#50ff00"/>
<rect x="401.12" y="253.72" width="4.09" height="13.69" fill="#c0ff00"/>
<rect x="405.21" y="253.72" width="20.49" height="13.69" fill="#50ff00"/>
<rect x="425.7" y="253.72" width="4.1" height="13.69" fill="#0afa00"/>
<rect x="433.9" y="253.72" width="4.1" height="13.69" fill="#50ff00"/>
<rect x="438" y="253.72" width="4.1" height="13.69" fill="#8eff00"/>
<rect x="442.1" y="253.72" width="4.09" height="13.69" fill="#50ff00"/>
<rect x="446.19" y="253.72" width="4.1" height="13.69" fill="#0afa00"/>
<rect x="450.29" y="253.72" width="8.2" height="13.69" fill="#0606ff"/>
<rect x="491.27" y="253.72" width="4.1" height="13.69" fill="#c0ff00"/>
<rect x="495.37" y="253.72" width="12.29" height="13.69" fill="#50ff00"/>
<rect x="507.66" y="253.72" width="8.2" height="13.69" fill="#8eff00"/>
<rect x="515.86" y="253.72" width="4.1" height="13.69" fill="#ffcd00"/>
<rect x="519.96" y="253.72" width="3.34" height="13.69" fill="#ff3400"/>
<rect x="106.06" y="267.41" width="4.1" height="13.69" fill="#0afa00"/>
<rect x="110.16" y="267.41" width="12.29" height="13.69" fill="#00d72d"/>
<rect x="122.45" y="267.41" width="4.1" height="13.69" fill="#50ff00"/>
<rect x="126.55" y="267.41" width="4.1" height="13.69" fill="#0afa00"/>
<rect x="130.65" y="267.41" width="4.1" height="13.69" fill="#50ff00"/>
<rect x="134.75" y="267.41" width="8.19" height="13.69" fill="#00d72d"/>
<rect x="142.94" y="267.41" width="8.2" height="13.69" fill="#00ac58"/>
<rect x="151.14" y="267.41" width="4.1" height="13.69" fill="#0afa00"/>
<rect x="155.24" y="267.41" width="4.09" height="13.69" fill="#00ac58"/>
<rect x="159.33" y="267.41" width="4.1" height="13.69" fill="#0afa00"/>
<rect x="163.43" y="267.41" width="4.1" height="13.69" fill="#50ff00"/>
<rect x="167.53" y="267.41" width="8.2" height="13.69" fill="#8eff00"/>
<rect x="175.73" y="267.41" width="36.88" height="13.69" fill="#50ff00"/>
<rect x="212.61" y="267.41" width="4.1" height="13.69" fill="#00d72d"/>
<rect x="216.71" y="267.41" width="8.19" height="13.69" fill="#50ff00"/>
<rect x="224.9" y="267.41" width="4.1" height="13.69" fill="#8eff00"/>
<rect x="229" y="267.41" width="4.1" height="13.69" fill="#f6fa00"/>
<rect x="233.1" y="267.41" width="4.1" height="13.69" fill="#8eff00"/>
<rect x="237.2" y="267.41" width="8.19" height="13.69" fill="#c0ff00"/>
<rect x="245.39" y="267.41" width="4.1" height="13.69" fill="#f6fa00"/>
<rect x="249.49" y="267.41" width="4.1" height="13.69" fill="#8eff00"/>
<rect x="253.59" y="267.41" width="4.1" height="13.69" fill="#50ff00"/>
<rect x="257.69" y="267.41" width="4.09" height="13.69" fill="#8eff00"/>
<rect x="261.78" y="267.41" width="4.1" height="13.69" fill="#0afa00"/>
<rect x="265.88" y="267.41" width="16.39" height="13.69" fill="#8eff00"/>
<rect x="282.27" y="267.41" width="4.1" height="13.69" fill="#00d72d"/>
<rect x="286.37" y="267.41" width="4.1" height="13.69" fill="#8eff00"/>
<rect x="290.47" y="267.41" width="4.1" height="13.69" fill="#0afa00"/>
<rect x="306.86" y="267.41" width="16.39" height="13.69" fill="#0afa00"/>
<rect x="323.25" y="267.41" width="16.4" height="13.69" fill="#8eff00"/>
<rect x="339.65" y="267.41" width="4.09" height="13.69" fill="#0afa00"/>
<rect x="343.74" y="267.41" width="12.3" height="13.69" fill="#50ff00"/>
<rect x="356.04" y="267.41" width="4.1" height="13.69" fill="#0afa00"/>
<rect x="360.14" y="267.41" width="4.09" height="13.69" fill="#50ff00"/>
<rect x="364.23" y="267.41" width="4.1" height="13.69" fill="#0afa00"/>
<rect x="368.33" y="267.41" width="4.1" height="13.69" fill="#00d72d"/>
<rect x="372.43" y="267.41" width="4.1" height="13.69" fill="#0afa00"/>
<rect x="376.53" y="267.41" width="4.1" height="13.69" fill="#8eff00"/>
<rect x="380.63" y="267.41" width="4.09" height="13.69" fill="#50ff00"/>
<rect x="384.72" y="267.41" width="12.3" height="13.69" fill="#8eff00"/>
<rect x="397.02" y="267.41" width="4.1" height="13.69" fill="#50ff00"/>
<rect x="401.12" y="267.41" width="16.39" height="13.69" fill="#8eff00"/>
<rect x="417.51" y="267.41" width="4.1" height="13.69" fill="#50ff00"/>
<rect x="421.61" y="267.41" width="8.19" height="13.69" fill="#c0ff00"/>
<rect x="429.8" y="267.41" width="8.2" height="13.69" fill="#8eff00"/>
<rect x="438" y="267.41" width="4.1" height="13.69" fill="#c0ff00"/>
<rect x="442.1" y="267.41" width="4.09" height="13.69" fill="#f6fa00"/>
<rect x="446.19" y="267.41" width="4.1" height="13.69" fill="#c0ff00"/>
<rect x="450.29" y="267.41" width="4.1" height="13.69" fill="#50ff00"/>
<rect x="454.39" y="267.41" width="4.1" height="13.69" fill="#00d72d"/>
<rect x="458.49" y="267.41" width="4.1" height="13.69" fill="#008a80"/>
<rect x="462.59" y="267.41" width="4.09" height="13.69" fill="#0048c3"/>
<rect x="466.68" y="267.41" width="4.1" height="13.69" fill="#00ac58"/>
<rect x="470.78" y="267.41" width="4.1" height="13.69" fill="#0048c3"/>
<rect x="474.88" y="267.41" width="4.1" height="13.69" fill="#0606ff"/>
<rect x="478.98" y="267.41" width="8.19" height="13.69" fill="#0048c3"/>
<rect x="487.17" y="267.41" width="4.1" height="13.69" fill="#0afa00"/>
<rect x="491.27" y="267.41" width="4.1" height="13.69" fill="#00ac58"/>
<rect x="495.37" y="267.41" width="20.49" height="13.69" fill="#8eff00"/>
<rect x="515.86" y="267.41" width="4.1" height="13.69" fill="#f6fa00"/>
<rect x="519.96" y="267.41" width="3.34" height="13.69" fill="#ff5f00"/>
<rect x="106.06" y="281.1" width="4.1" height="13.69" fill="#0afa00"/>
<rect x="110.16" y="281.1" width="4.1" height="13.69" fill="#00c044"/>
<rect x="114.26" y="281.1" width="12.29" height="13.69" fill="#00d72d"/>
<rect x="126.55" y="281.1" width="4.1" height="13.69" fill="#00ac58"/>
<rect x="130.65" y="281.1" width="4.1" height="13.69" fill="#0afa00"/>
<rect x="159.33" y="281.1" width="4.1" height="13.69" fill="#50ff00"/>
<rect x="163.43" y="281.1" width="4.1" height="13.69" fill="#8eff00"/>
<rect x="167.53" y="281.1" width="4.1" height="13.69" fill="#50ff00"/>
<rect x="171.63" y="281.1" width="8.19" height="13.69" fill="#0afa00"/>
<rect x="179.82" y="281.1" width="4.1" height="13.69" fill="#50ff00"/>
<rect x="183.92" y="281.1" width="4.1" height="13.69" fill="#8eff00"/>
<rect x="188.02" y="281.1" width="8.2" height="13.69" fill="#0afa00"/>
<rect x="196.22" y="281.1" width="4.09" height="13.69" fill="#00c044"/>
<rect x="200.31" y="281.1" width="12.3" height="13.69" fill="#0afa00"/>
<rect x="212.61" y="281.1" width="8.19" height="13.69" fill="#50ff00"/>
<rect x="220.8" y="281.1" width="4.1" height="13.69" fill="#c0ff00"/>
<rect x="224.9" y="281.1" width="4.1" height="13.69" fill="#50ff00"/>
<rect x="229" y="281.1" width="8.2" height="13.69" fill="#8eff00"/>
<rect x="237.2" y="281.1" width="4.09" height="13.69" fill="#c0ff00"/>
<rect x="241.29" y="281.1" width="4.1" height="13.69" fill="#8eff00"/>
<rect x="245.39" y="281.1" width="8.2" height="13.69" fill="#c0ff00"/>
<rect x="253.59" y="281.1" width="4.1" height="13.69" fill="#8eff00"/>
<rect x="257.69" y="281.1" width="4.09" height="13.69" fill="#0afa00"/>
<rect x="261.78" y="281.1" width="4.1" height="13.69" fill="#00d72d"/>
<rect x="265.88" y="281.1" width="4.1" height="13.69" fill="#50ff00"/>
<rect x="269.98" y="281.1" width="4.1" height="13.69" fill="#8eff00"/>
<rect x="274.08" y="281.1" width="4.1" height="13.69" fill="#c0ff00"/>
<rect x="278.18" y="281.1" width="4.09" height="13.69" fill="#50ff00"/>
<rect x="282.27" y="281.1" width="8.2" height="13.69" fill="#0afa00"/>
<rect x="290.47" y="281.1" width="4.1" height="13.69" fill="#ffcd00"/>
<rect x="294.57" y="281.1" width="8.19" height="13.69" fill="#50ff00"/>
<rect x="315.06" y="281.1" width="4.1" height="13.69" fill="#0afa00"/>
<rect x="319.16" y="281.1" width="4.09" height="13.69" fill="#50ff00"/>
<rect x="323.25" y="281.1" width="12.3" height="13.69" fill="#8eff00"/>
<rect x="335.55" y="281.1" width="12.29" height="13.69" fill="#50ff00"/>
<rect x="347.84" y="281.1" width="4.1" height="13.69" fill="#0afa00"/>
<rect x="351.94" y="281.1" width="16.39" height="13.69" fill="#50ff00"/>
<rect x="368.33" y="281.1" width="8.2" height="13.69" fill="#00c044"/>
<rect x="376.53" y="281.1" width="4.1" height="13.69" fill="#50ff00"/>
<rect x="380.63" y="281.1" width="8.19" height="13.69" fill="#8eff00"/>
<rect x="388.82" y="281.1" width="4.1" height="13.69" fill="#0afa00"/>
<rect x="392.92" y="281.1" width="4.1" height="13.69" fill="#8eff00"/>
<rect x="397.02" y="281.1" width="4.1" height="13.69" fill="#00c044"/>
<rect x="401.12" y="281.1" width="4.09" height="13.69" fill="#50ff00"/>
<rect x="405.21" y="281.1" width="4.1" height="13.69" fill="#0afa00"/>
<rect x="413.41" y="281.1" width="4.1" height="13.69" fill="#50ff00"/>
<rect x="417.51" y="281.1" width="4.1" height="13.69" fill="#00d72d"/>
<rect x="421.61" y="281.1" width="8.19" height="13.69" fill="#0afa00"/>
<rect x="429.8" y="281.1" width="16.39" height="13.69" fill="#8eff00"/>
<rect x="446.19" y="281.1" width="4.1" height="13.69" fill="#ff9600"/>
<rect x="450.29" y="281.1" width="4.1" height="13.69" fill="#8eff00"/>
<rect x="478.98" y="281.1" width="4.1" height="13.69" fill="#0048c3"/>
<rect x="483.08" y="281.1" width="4.09" height="13.69" fill="#0afa00"/>
<rect x="487.17" y="281.1" width="4.1" height="13.69" fill="#00d72d"/>
<rect x="491.27" y="281.1" width="4.1" height="13.69" fill="#00c044"/>
<rect x="495.37" y="281.1" width="4.1" height="13.69" fill="#00d72d"/>
<rect x="499.47" y="281.1" width="4.1" height="13.69" fill="#0afa00"/>
<rect x="503.57" y="281.1" width="8.19" height="13.69" fill="#50ff00"/>
<rect x="511.76" y="281.1" width="4.1" height="13.69" fill="#0afa00"/>
<rect x="515.86" y="281.1" width="4.1" height="13.69" fill="#8eff00"/>
<rect x="106.06" y="294.79" width="4.1" height="13.69" fill="#0afa00"/>
<rect x="110.16" y="294.79" width="4.1" height="13.69" fill="#00d72d"/>
<rect x="114.26" y="294.79" width="8.19" height="13.69" fill="#00ac58"/>
<rect x="122.45" y="294.79" width="4.1" height="13.69" fill="#0afa00"/>
<rect x="126.55" y="294.79" width="4.1" height="13.69" fill="#00d72d"/>
<rect x="130.65" y="294.79" width="8.19" height="13.69" fill="#0afa00"/>
<rect x="138.84" y="294.79" width="8.2" height="13.69" fill="#00ac58"/>
<rect x="159.33" y="294.79" width="4.1" height="13.69" fill="#8eff00"/>
<rect x="163.43" y="294.79" width="4.1" height="13.69" fill="#50ff00"/>
<rect x="167.53" y="294.79" width="20.49" height="13.69" fill="#0afa00"/>
<rect x="188.02" y="294.79" width="4.1" height="13.69" fill="#c0ff00"/>
<rect x="192.12" y="294.79" width="24.59" height="13.69" fill="#50ff00"/>
<rect x="216.71" y="294.79" width="8.19" height="13.69" fill="#c0ff00"/>
<rect x="224.9" y="294.79" width="4.1" height="13.69" fill="#8eff00"/>
<rect x="229" y="294.79" width="4.1" height="13.69" fill="#c0ff00"/>
<rect x="233.1" y="294.79" width="8.19" height="13.69" fill="#8eff00"/>
<rect x="241.29" y="294.79" width="8.2" height="13.69" fill="#c0ff00"/>
<rect x="249.49" y="294.79" width="4.1" height="13.69" fill="#0afa00"/>
<rect x="253.59" y="294.79" width="4.1" height="13.69" fill="#50ff00"/>
<rect x="257.69" y="294.79" width="4.09" height="13.69" fill="#0afa00"/>
<rect x="261.78" y="294.79" width="4.1" height="13.69" fill="#00c044"/>
<rect x="265.88" y="294.79" width="4.1" height="13.69" fill="#0afa00"/>
<rect x="269.98" y="294.79" width="8.2" height="13.69" fill="#50ff00"/>
<rect x="278.18" y="294.79" width="4.09" height="13.69" fill="#0afa00"/>
<rect x="282.27" y="294.79" width="4.1" height="13.69" fill="#00d72d"/>
<rect x="286.37" y="294.79" width="4.1" height="13.69" fill="#50ff00"/>
<rect x="290.47" y="294.79" width="4.1" height="13.69" fill="#f6fa00"/>
<rect x="294.57" y="294.79" width="4.1" height="13.69" fill="#50ff00"/>
<rect x="298.67" y="294.79" width="4.09" height="13.69" fill="#0afa00"/>
<rect x="315.06" y="294.79" width="4.1" height="13.69" fill="#0afa00"/>
<rect x="319.16" y="294.79" width="4.09" height="13.69" fill="#f6fa00"/>
<rect x="323.25" y="294.79" width="4.1" height="13.69" fill="#50ff00"/>
<rect x="327.35" y="294.79" width="4.1" height="13.69" fill="#8eff00"/>
<rect x="331.45" y="294.79" width="4.1" height="13.69" fill="#0afa00"/>
<rect x="335.55" y="294.79" width="4.1" height="13.69" fill="#c0ff00"/>
<rect x="339.65" y="294.79" width="20.49" height="13.69" fill="#50ff00"/>
<rect x="360.14" y="294.79" width="4.09" height="13.69" fill="#0afa00"/>
<rect x="364.23" y="294.79" width="4.1" height="13.69" fill="#00ac58"/>
<rect x="368.33" y="294.79" width="4.1" height="13.69" fill="#0afa00"/>
<rect x="372.43" y="294.79" width="53.27" height="13.69" fill="#8eff00"/>
<rect x="425.7" y="294.79" width="4.1" height="13.69" fill="#00ac58"/>
<rect x="429.8" y="294.79" width="4.1" height="13.69" fill="#0afa00"/>
<rect x="433.9" y="294.79" width="8.2" height="13.69" fill="#8eff00"/>
<rect x="442.1" y="294.79" width="12.29" height="13.69" fill="#0afa00"/>
<rect x="466.68" y="294.79" width="4.1" height="13.69" fill="#00ac58"/>
<rect x="470.78" y="294.79" width="4.1" height="13.69" fill="#0048c3"/>
<rect x="474.88" y="294.79" width="4.1" height="13.69" fill="#0606ff"/>
<rect x="478.98" y="294.79" width="4.1" height="13.69" fill="#00ac58"/>
<rect x="483.08" y="294.79" width="4.09" height="13.69" fill="#0606ff"/>
<rect x="487.17" y="294.79" width="4.1" height="13.69" fill="#0afa00"/>
<rect x="491.27" y="294.79" width="8.2" height="13.69" fill="#008a80"/>
<rect x="499.47" y="294.79" width="4.1" height="13.69" fill="#0afa00"/>
<rect x="503.57" y="294.79" width="4.09" height="13.69" fill="#50ff00"/>
<rect x="507.66" y="294.79" width="4.1" height="13.69" fill="#c0ff00"/>
<rect x="511.76" y="294.79" width="4.1" height="13.69" fill="#0afa00"/>
<rect x="515.86" y="294.79" width="4.1" height="13.69" fill="#8eff00"/>
<rect x="519.96" y="294.79" width="3.34" height="13.69" fill="#ff9600"/>
<rect x="106.06" y="308.48" width="4.1" height="13.69" fill="#0afa00"/>
<rect x="110.16" y="308.48" width="4.1" height="13.69" fill="#00ac58"/>
<rect x="114.26" y="308.48" width="4.09" height="13.69" fill="#0afa00"/>
<rect x="118.35" y="308.48" width="4.1" height="13.69" fill="#8eff00"/>
<rect x="122.45" y="308.48" width="12.3" height="13.69" fill="#0afa00"/>
<rect x="134.75" y="308.48" width="4.09" height="13.69" fill="#0048c3"/>
<rect x="138.84" y="308.48" width="4.1" height="13.69" fill="#50ff00"/>
<rect x="142.94" y="308.48" width="4.1" height="13.69" fill="#0048c3"/>
<rect x="159.33" y="308.48" width="24.59" height="13.69" fill="#50ff00"/>
<rect x="183.92" y="308.48" width="4.1" height="13.69" fill="#c0ff00"/>
<rect x="188.02" y="308.48" width="8.2" height="13.69" fill="#50ff00"/>
<rect x="196.22" y="308.48" width="4.09" height="13.69" fill="#c0ff00"/>
<rect x="200.31" y="308.48" width="4.1" height="13.69" fill="#50ff00"/>
<rect x="204.41" y="308.48" width="8.2" height="13.69" fill="#0afa00"/>
<rect x="212.61" y="308.48" width="4.1" height="13.69" fill="#00d72d"/>
<rect x="216.71" y="308.48" width="4.09" height="13.69" fill="#0afa00"/>
<rect x="220.8" y="308.48" width="4.1" height="13.69" fill="#8eff00"/>
<rect x="224.9" y="308.48" width="12.3" height="13.69" fill="#50ff00"/>
<rect x="237.2" y="308.48" width="4.09" height="13.69" fill="#c0ff00"/>
<rect x="241.29" y="308.48" width="4.1" height="13.69" fill="#50ff00"/>
<rect x="245.39" y="308.48" width="8.2" height="13.69" fill="#f6fa00"/>
<rect x="253.59" y="308.48" width="8.19" height="13.69" fill="#8eff00"/>
<rect x="261.78" y="308.48" width="4.1" height="13.69" fill="#00d72d"/>
<rect x="265.88" y="308.48" width="8.2" height="13.69" fill="#8eff00"/>
<rect x="274.08" y="308.48" width="8.19" height="13.69" fill="#50ff00"/>
<rect x="282.27" y="308.48" width="12.3" height="13.69" fill="#8eff00"/>
<rect x="294.57" y="308.48" width="8.19" height="13.69" fill="#50ff00"/>
<rect x="315.06" y="308.48" width="4.1" height="13.69" fill="#00d72d"/>
<rect x="319.16" y="308.48" width="4.09" height="13.69" fill="#008a80"/>
<rect x="323.25" y="308.48" width="40.98" height="13.69" fill="#50ff00"/>
<rect x="364.23" y="308.48" width="8.2" height="13.69" fill="#0afa00"/>
<rect x="372.43" y="308.48" width="4.1" height="13.69" fill="#c0ff00"/>
<rect x="376.53" y="308.48" width="4.1" height="13.69" fill="#8eff00"/>
<rect x="380.63" y="308.48" width="8.19" height="13.69" fill="#c0ff00"/>
<rect x="388.82" y="308.48" width="12.3" height="13.69" fill="#8eff00"/>
<rect x="401.12" y="308.48" width="4.09" height="13.69" fill="#c0ff00"/>
<rect x="405.21" y="308.48" width="4.1" height="13.69" fill="#50ff00"/>
<rect x="409.31" y="308.48" width="4.1" height="13.69" fill="#8eff00"/>
<rect x="413.41" y="308.48" width="4.1" height="13.69" fill="#50ff00"/>
<rect x="417.51" y="308.48" width="4.1" height="13.69" fill="#00d72d"/>
<rect x="421.61" y="308.48" width="4.09" height="13.69" fill="#50ff00"/>
<rect x="425.7" y="308.48" width="4.1" height="13.69" fill="#00ac58"/>
<rect x="429.8" y="308.48" width="4.1" height="13.69" fill="#0afa00"/>
<rect x="433.9" y="308.48" width="4.1" height="13.69" fill="#50ff00"/>
<rect x="438" y="308.48" width="4.1" height="13.69" fill="#8eff00"/>
<rect x="442.1" y="308.48" width="4.09" height="13.69" fill="#50ff00"/>
<rect x="446.19" y="308.48" width="8.2" height="13.69" fill="#0afa00"/>
<rect x="466.68" y="308.48" width="4.1" height="13.69" fill="#00ac58"/>
<rect x="470.78" y="308.48" width="4.1" height="13.69" fill="#0048c3"/>
<rect x="474.88" y="308.48" width="4.1" height="13.69" fill="#0606ff"/>
<rect x="478.98" y="308.48" width="4.1" height="13.69" fill="#0048c3"/>
<rect x="483.08" y="308.48" width="4.09" height="13.69" fill="#402cff"/>
<rect x="487.17" y="308.48" width="4.1" height="13.69" fill="#006ea0"/>
<rect x="491.27" y="308.48" width="4.1" height="13.69" fill="#00c044"/>
<rect x="495.37" y="308.48" width="4.1" height="13.69" fill="#00d72d"/>
<rect x="499.47" y="308.48" width="4.1" height="13.69" fill="#0afa00"/>
<rect x="503.57" y="308.48" width="4.09" height="13.69" fill="#50ff00"/>
<rect x="507.66" y="308.48" width="8.2" height="13.69" fill="#8eff00"/>
<rect x="515.86" y="308.48" width="4.1" height="13.69" fill="#f6fa00"/>
<rect x="106.06" y="322.17" width="12.29" height="13.69" fill="#0afa00"/>
<rect x="118.35" y="322.17" width="4.1" height="13.69" fill="#00c044"/>
<rect x="122.45" y="322.17" width="8.2" height="13.69" fill="#0afa00"/>
<rect x="130.65" y="322.17" width="4.1" height="13.69" fill="#50ff00"/>
<rect x="134.75" y="322.17" width="4.09" height="13.69" fill="#0afa00"/>
<rect x="138.84" y="322.17" width="8.2" height="13.69" fill="#00c044"/>
<rect x="147.04" y="322.17" width="4.1" height="13.69" fill="#006ea0"/>
<rect x="151.14" y="322.17" width="12.29" height="13.69" fill="#0afa00"/>
<rect x="163.43" y="322.17" width="12.3" height="13.69" fill="#8eff00"/>
<rect x="175.73" y="322.17" width="4.09" height="13.69" fill="#00d72d"/>
<rect x="179.82" y="322.17" width="4.1" height="13.69" fill="#50ff00"/>
<rect x="183.92" y="322.17" width="4.1" height="13.69" fill="#00d72d"/>
<rect x="188.02" y="322.17" width="4.1" height="13.69" fill="#50ff00"/>
<rect x="192.12" y="322.17" width="4.1" height="13.69" fill="#00d72d"/>
<rect x="196.22" y="322.17" width="16.39" height="13.69" fill="#0afa00"/>
<rect x="212.61" y="322.17" width="4.1" height="13.69" fill="#50ff00"/>
<rect x="216.71" y="322.17" width="4.09" height="13.69" fill="#8eff00"/>
<rect x="220.8" y="322.17" width="4.1" height="13.69" fill="#ffcd00"/>
<rect x="224.9" y="322.17" width="4.1" height="13.69" fill="#8eff00"/>
<rect x="229" y="322.17" width="4.1" height="13.69" fill="#c0ff00"/>
<rect x="233.1" y="322.17" width="4.1" height="13.69" fill="#8eff00"/>
<rect x="237.2" y="322.17" width="12.29" height="13.69" fill="#c0ff00"/>
<rect x="249.49" y="322.17" width="4.1" height="13.69" fill="#f6fa00"/>
<rect x="253.59" y="322.17" width="24.59" height="13.69" fill="#8eff00"/>
<rect x="278.18" y="322.17" width="4.09" height="13.69" fill="#50ff00"/>
<rect x="282.27" y="322.17" width="4.1" height="13.69" fill="#00d72d"/>
<rect x="286.37" y="322.17" width="4.1" height="13.69" fill="#50ff00"/>
<rect x="290.47" y="322.17" width="20.49" height="13.69" fill="#0afa00"/>
<rect x="310.96" y="322.17" width="4.1" height="13.69" fill="#00d72d"/>
<rect x="315.06" y="322.17" width="4.1" height="13.69" fill="#0afa00"/>
<rect x="319.16" y="322.17" width="20.49" height="13.69" fill="#50ff00"/>
<rect x="339.65" y="322.17" width="4.09" height="13.69" fill="#00c044"/>
<rect x="343.74" y="322.17" width="4.1" height="13.69" fill="#0afa00"/>
<rect x="347.84" y="322.17" width="4.1" height="13.69" fill="#00d72d"/>
<rect x="351.94" y="322.17" width="8.2" height="13.69" fill="#50ff00"/>
<rect x="360.14" y="322.17" width="24.58" height="13.69" fill="#8eff00"/>
<rect x="384.72" y="322.17" width="4.1" height="13.69" fill="#c0ff00"/>
<rect x="388.82" y="322.17" width="36.88" height="13.69" fill="#50ff00"/>
<rect x="425.7" y="322.17" width="4.1" height="13.69" fill="#0048c3"/>
<rect x="429.8" y="322.17" width="4.1" height="13.69" fill="#0afa00"/>
<rect x="433.9" y="322.17" width="8.2" height="13.69" fill="#8eff00"/>
<rect x="442.1" y="322.17" width="4.09" height="13.69" fill="#00d72d"/>
<rect x="446.19" y="322.17" width="4.1" height="13.69" fill="#50ff00"/>
<rect x="450.29" y="322.17" width="4.1" height="13.69" fill="#00d72d"/>
<rect x="454.39" y="322.17" width="4.1" height="13.69" fill="#0afa00"/>
<rect x="458.49" y="322.17" width="4.1" height="13.69" fill="#8eff00"/>
<rect x="462.59" y="322.17" width="4.09" height="13.69" fill="#0afa00"/>
<rect x="466.68" y="322.17" width="4.1" height="13.69" fill="#0048c3"/>
<rect x="470.78" y="322.17" width="4.1" height="13.69" fill="#00ac58"/>
<rect x="474.88" y="322.17" width="4.1" height="13.69" fill="#0606ff"/>
<rect x="478.98" y="322.17" width="4.1" height="13.69" fill="#00ac58"/>
<rect x="483.08" y="322.17" width="4.09" height="13.69" fill="#0048c3"/>
<rect x="487.17" y="322.17" width="4.1" height="13.69" fill="#0afa00"/>
<rect x="491.27" y="322.17" width="4.1" height="13.69" fill="#00c044"/>
<rect x="495.37" y="322.17" width="4.1" height="13.69" fill="#8eff00"/>
<rect x="499.47" y="322.17" width="4.1" height="13.69" fill="#f6fa00"/>
<rect x="503.57" y="322.17" width="8.19" height="13.69" fill="#50ff00"/>
<rect x="511.76" y="322.17" width="4.1" height="13.69" fill="#8eff00"/>
<rect x="515.86" y="322.17" width="4.1" height="13.69" fill="#c0ff00"/>
<rect x="519.96" y="322.17" width="3.34" height="13.69" fill="#ff9600"/>
<rect x="106.06" y="335.86" width="4.1" height="13.69" fill="#0afa00"/>
<rect x="110.16" y="335.86" width="8.19" height="13.69" fill="#00d72d"/>
<rect x="118.35" y="335.86" width="4.1" height="13.69" fill="#00ac58"/>
<rect x="122.45" y="335.86" width="8.2" height="13.69" fill="#50ff00"/>
<rect x="130.65" y="335.86" width="4.1" height="13.69" fill="#c0ff00"/>
<rect x="134.75" y="335.86" width="4.09" height="13.69" fill="#0afa00"/>
<rect x="138.84" y="335.86" width="4.1" height="13.69" fill="#00d72d"/>
<rect x="142.94" y="335.86" width="4.1" height="13.69" fill="#0afa00"/>
<rect x="147.04" y="335.86" width="12.29" height="13.69" fill="#0048c3"/>
<rect x="159.33" y="335.86" width="4.1" height="13.69" fill="#0afa00"/>
<rect x="163.43" y="335.86" width="12.3" height="13.69" fill="#8eff00"/>
<rect x="175.73" y="335.86" width="16.39" height="13.69" fill="#0afa00"/>
<rect x="192.12" y="335.86" width="8.19" height="13.69" fill="#00ac58"/>
<rect x="200.31" y="335.86" width="4.1" height="13.69" fill="#0afa00"/>
<rect x="204.41" y="335.86" width="4.1" height="13.69" fill="#00d72d"/>
<rect x="208.51" y="335.86" width="8.2" height="13.69" fill="#50ff00"/>
<rect x="216.71" y="335.86" width="8.19" height="13.69" fill="#c0ff00"/>
<rect x="224.9" y="335.86" width="4.1" height="13.69" fill="#0afa00"/>
<rect x="229" y="335.86" width="4.1" height="13.69" fill="#c0ff00"/>
<rect x="233.1" y="335.86" width="4.1" height="13.69" fill="#50ff00"/>
<rect x="237.2" y="335.86" width="8.19" height="13.69" fill="#8eff00"/>
<rect x="245.39" y="335.86" width="8.2" height="13.69" fill="#f6fa00"/>
<rect x="253.59" y="335.86" width="8.19" height="13.69" fill="#8eff00"/>
<rect x="261.78" y="335.86" width="4.1" height="13.69" fill="#50ff00"/>
<rect x="265.88" y="335.86" width="4.1" height="13.69" fill="#8eff00"/>
<rect x="269.98" y="335.86" width="8.2" height="13.69" fill="#50ff00"/>
<rect x="278.18" y="335.86" width="4.09" height="13.69" fill="#0afa00"/>
<rect x="282.27" y="335.86" width="4.1" height="13.69" fill="#00d72d"/>
<rect x="286.37" y="335.86" width="4.1" height="13.69" fill="#0afa00"/>
<rect x="290.47" y="335.86" width="4.1" height="13.69" fill="#00ac58"/>
<rect x="294.57" y="335.86" width="4.1" height="13.69" fill="#50ff00"/>
<rect x="298.67" y="335.86" width="12.29" height="13.69" fill="#0afa00"/>
<rect x="310.96" y="335.86" width="4.1" height="13.69" fill="#00c044"/>
<rect x="315.06" y="335.86" width="4.1" height="13.69" fill="#0afa00"/>
<rect x="319.16" y="335.86" width="4.09" height="13.69" fill="#008a80"/>
<rect x="323.25" y="335.86" width="20.49" height="13.69" fill="#0afa00"/>
<rect x="343.74" y="335.86" width="4.1" height="13.69" fill="#50ff00"/>
<rect x="347.84" y="335.86" width="4.1" height="13.69" fill="#c0ff00"/>
<rect x="351.94" y="335.86" width="4.1" height="13.69" fill="#8eff00"/>
<rect x="356.04" y="335.86" width="4.1" height="13.69" fill="#0afa00"/>
<rect x="360.14" y="335.86" width="4.09" height="13.69" fill="#c0ff00"/>
<rect x="364.23" y="335.86" width="8.2" height="13.69" fill="#8eff00"/>
<rect x="372.43" y="335.86" width="4.1" height="13.69" fill="#c0ff00"/>
<rect x="376.53" y="335.86" width="4.1" height="13.69" fill="#0afa00"/>
<rect x="380.63" y="335.86" width="20.49" height="13.69" fill="#50ff00"/>
<rect x="401.12" y="335.86" width="4.09" height="13.69" fill="#8eff00"/>
<rect x="405.21" y="335.86" width="8.2" height="13.69" fill="#50ff00"/>
<rect x="413.41" y="335.86" width="4.1" height="13.69" fill="#0afa00"/>
<rect x="417.51" y="335.86" width="4.1" height="13.69" fill="#00d72d"/>
<rect x="421.61" y="335.86" width="4.09" height="13.69" fill="#0afa00"/>
<rect x="425.7" y="335.86" width="4.1" height="13.69" fill="#00ac58"/>
<rect x="429.8" y="335.86" width="8.2" height="13.69" fill="#0afa00"/>
<rect x="438" y="335.86" width="4.1" height="13.69" fill="#50ff00"/>
<rect x="442.1" y="335.86" width="4.09" height="13.69" fill="#0afa00"/>
<rect x="446.19" y="335.86" width="4.1" height="13.69" fill="#00d72d"/>
<rect x="450.29" y="335.86" width="4.1" height="13.69" fill="#50ff00"/>
<rect x="454.39" y="335.86" width="8.2" height="13.69" fill="#00d72d"/>
<rect x="462.59" y="335.86" width="4.09" height="13.69" fill="#00ac58"/>
<rect x="466.68" y="335.86" width="4.1" height="13.69" fill="#0afa00"/>
<rect x="470.78" y="335.86" width="4.1" height="13.69" fill="#0048c3"/>
<rect x="474.88" y="335.86" width="4.1" height="13.69" fill="#0606ff"/>
<rect x="478.98" y="335.86" width="8.19" height="13.69" fill="#0048c3"/>
<rect x="487.17" y="335.86" width="4.1" height="13.69" fill="#0afa00"/>
<rect x="491.27" y="335.86" width="4.1" height="13.69" fill="#00d72d"/>
<rect x="495.37" y="335.86" width="4.1" height="13.69" fill="#8eff00"/>
<rect x="499.47" y="335.86" width="4.1" height="13.69" fill="#c0ff00"/>
<rect x="503.57" y="335.86" width="12.29" height="13.69" fill="#50ff00"/>
<rect x="515.86" y="335.86" width="4.1" height="13.69" fill="#ff9600"/>
<rect x="106.06" y="349.55" width="4.1" height="13.69" fill="#8eff00"/>
<rect x="110.16" y="349.55" width="4.1" height="13.69" fill="#0afa00"/>
<rect x="114.26" y="349.55" width="4.09" height="13.69" fill="#00d72d"/>
<rect x="118.35" y="349.55" width="4.1" height="13.69" fill="#006ea0"/>
<rect x="122.45" y="349.55" width="16.39" height="13.69" fill="#0afa00"/>
<rect x="138.84" y="349.55" width="4.1" height="13.69" fill="#8eff00"/>
<rect x="142.94" y="349.55" width="4.1" height="13.69" fill="#0afa00"/>
<rect x="147.04" y="349.55" width="4.1" height="13.69" fill="#00ac58"/>
<rect x="151.14" y="349.55" width="8.19" height="13.69" fill="#00d72d"/>
<rect x="159.33" y="349.55" width="4.1" height="13.69" fill="#00ac58"/>
<rect x="163.43" y="349.55" width="12.3" height="13.69" fill="#8eff00"/>
<rect x="175.73" y="349.55" width="4.09" height="13.69" fill="#0afa00"/>
<rect x="179.82" y="349.55" width="4.1" height="13.69" fill="#50ff00"/>
<rect x="183.92" y="349.55" width="4.1" height="13.69" fill="#8eff00"/>
<rect x="188.02" y="349.55" width="8.2" height="13.69" fill="#0afa00"/>
<rect x="196.22" y="349.55" width="4.09" height="13.69" fill="#00d72d"/>
<rect x="200.31" y="349.55" width="4.1" height="13.69" fill="#0afa00"/>
<rect x="204.41" y="349.55" width="4.1" height="13.69" fill="#006ea0"/>
<rect x="208.51" y="349.55" width="8.2" height="13.69" fill="#50ff00"/>
<rect x="216.71" y="349.55" width="12.29" height="13.69" fill="#8eff00"/>
<rect x="229" y="349.55" width="8.2" height="13.69" fill="#0afa00"/>
<rect x="237.2" y="349.55" width="8.19" height="13.69" fill="#50ff00"/>
<rect x="245.39" y="349.55" width="8.2" height="13.69" fill="#c0ff00"/>
<rect x="253.59" y="349.55" width="4.1" height="13.69" fill="#8eff00"/>
<rect x="257.69" y="349.55" width="8.19" height="13.69" fill="#50ff00"/>
<rect x="265.88" y="349.55" width="4.1" height="13.69" fill="#c0ff00"/>
<rect x="269.98" y="349.55" width="8.2" height="13.69" fill="#8eff00"/>
<rect x="278.18" y="349.55" width="4.09" height="13.69" fill="#50ff00"/>
<rect x="282.27" y="349.55" width="4.1" height="13.69" fill="#00d72d"/>
<rect x="286.37" y="349.55" width="12.3" height="13.69" fill="#50ff00"/>
<rect x="298.67" y="349.55" width="4.09" height="13.69" fill="#00d72d"/>
<rect x="302.76" y="349.55" width="8.2" height="13.69" fill="#8eff00"/>
<rect x="310.96" y="349.55" width="4.1" height="13.69" fill="#0afa00"/>
<rect x="315.06" y="349.55" width="4.1" height="13.69" fill="#8eff00"/>
<rect x="319.16" y="349.55" width="4.09" height="13.69" fill="#50ff00"/>
<rect x="323.25" y="349.55" width="20.49" height="13.69" fill="#8eff00"/>
<rect x="343.74" y="349.55" width="4.1" height="13.69" fill="#c0ff00"/>
<rect x="347.84" y="349.55" width="4.1" height="13.69" fill="#8eff00"/>
<rect x="351.94" y="349.55" width="4.1" height="13.69" fill="#c0ff00"/>
<rect x="356.04" y="349.55" width="4.1" height="13.69" fill="#8eff00"/>
<rect x="360.14" y="349.55" width="4.09" height="13.69" fill="#c0ff00"/>
<rect x="364.23" y="349.55" width="4.1" height="13.69" fill="#8eff00"/>
<rect x="368.33" y="349.55" width="4.1" height="13.69" fill="#0afa00"/>
<rect x="372.43" y="349.55" width="4.1" height="13.69" fill="#8eff00"/>
<rect x="376.53" y="349.55" width="4.1" height="13.69" fill="#0afa00"/>
<rect x="380.63" y="349.55" width="12.29" height="13.69" fill="#50ff00"/>
<rect x="392.92" y="349.55" width="8.2" height="13.69" fill="#8eff00"/>
<rect x="401.12" y="349.55" width="16.39" height="13.69" fill="#50ff00"/>
<rect x="417.51" y="349.55" width="4.1" height="13.69" fill="#0afa00"/>
<rect x="421.61" y="349.55" width="4.09" height="13.69" fill="#00d72d"/>
<rect x="425.7" y="349.55" width="4.1" height="13.69" fill="#00ac58"/>
<rect x="429.8" y="349.55" width="8.2" height="13.69" fill="#00d72d"/>
<rect x="438" y="349.55" width="4.1" height="13.69" fill="#50ff00"/>
<rect x="442.1" y="349.55" width="4.09" height="13.69" fill="#0afa00"/>
<rect x="446.19" y="349.55" width="4.1" height="13.69" fill="#00d72d"/>
<rect x="450.29" y="349.55" width="4.1" height="13.69" fill="#0afa00"/>
<rect x="454.39" y="349.55" width="12.29" height="13.69" fill="#00d72d"/>
<rect x="466.68" y="349.55" width="4.1" height="13.69" fill="#00c044"/>
<rect x="470.78" y="349.55" width="8.2" height="13.69" fill="#0606ff"/>
<rect x="478.98" y="349.55" width="4.1" height="13.69" fill="#00ac58"/>
<rect x="483.08" y="349.55" width="4.09" height="13.69" fill="#0048c3"/>
<rect x="487.17" y="349.55" width="4.1" height="13.69" fill="#0afa00"/>
<rect x="491.27" y="349.55" width="4.1" height="13.69" fill="#50ff00"/>
<rect x="495.37" y="349.55" width="8.2" height="13.69" fill="#8eff00"/>
<rect x="503.57" y="349.55" width="4.09" height="13.69" fill="#00ac58"/>
<rect x="507.66" y="349.55" width="4.1" height="13.69" fill="#50ff00"/>
<rect x="511.76" y="349.55" width="4.1" height="13.69" fill="#c0ff00"/>
<rect x="106.06" y="363.24" width="4.1" height="13.69" fill="#c0ff00"/>
<rect x="110.16" y="363.24" width="4.1" height="13.69" fill="#0afa00"/>
<rect x="114.26" y="363.24" width="4.09" height="13.69" fill="#00d72d"/>
<rect x="118.35" y="363.24" width="4.1" height="13.69" fill="#008a80"/>
<rect x="122.45" y="363.24" width="8.2" height="13.69" fill="#00d72d"/>
<rect x="130.65" y="363.24" width="16.39" height="13.69" fill="#0afa00"/>
<rect x="147.04" y="363.24" width="4.1" height="13.69" fill="#00d72d"/>
<rect x="151.14" y="363.24" width="4.1" height="13.69" fill="#0afa00"/>
<rect x="155.24" y="363.24" width="4.09" height="13.69" fill="#008a80"/>
<rect x="159.33" y="363.24" width="8.2" height="13.69" fill="#00d72d"/>
<rect x="167.53" y="363.24" width="4.1" height="13.69" fill="#8eff00"/>
<rect x="171.63" y="363.24" width="24.59" height="13.69" fill="#50ff00"/>
<rect x="196.22" y="363.24" width="4.09" height="13.69" fill="#0afa00"/>
<rect x="200.31" y="363.24" width="8.2" height="13.69" fill="#00d72d"/>
<rect x="208.51" y="363.24" width="4.1" height="13.69" fill="#50ff00"/>
<rect x="212.61" y="363.24" width="8.19" height="13.69" fill="#0afa00"/>
<rect x="220.8" y="363.24" width="4.1" height="13.69" fill="#8eff00"/>
<rect x="224.9" y="363.24" width="4.1" height="13.69" fill="#0afa00"/>
<rect x="229" y="363.24" width="4.1" height="13.69" fill="#c0ff00"/>
<rect x="233.1" y="363.24" width="4.1" height="13.69" fill="#0afa00"/>
<rect x="237.2" y="363.24" width="4.09" height="13.69" fill="#8eff00"/>
<rect x="241.29" y="363.24" width="24.59" height="13.69" fill="#50ff00"/>
<rect x="265.88" y="363.24" width="8.2" height="13.69" fill="#8eff00"/>
<rect x="274.08" y="363.24" width="4.1" height="13.69" fill="#f6fa00"/>
<rect x="278.18" y="363.24" width="4.09" height="13.69" fill="#8eff00"/>
<rect x="282.27" y="363.24" width="4.1" height="13.69" fill="#50ff00"/>
<rect x="286.37" y="363.24" width="4.1" height="13.69" fill="#8eff00"/>
<rect x="290.47" y="363.24" width="4.1" height="13.69" fill="#0afa00"/>
<rect x="294.57" y="363.24" width="20.49" height="13.69" fill="#c0ff00"/>
<rect x="315.06" y="363.24" width="8.19" height="13.69" fill="#8eff00"/>
<rect x="323.25" y="363.24" width="4.1" height="13.69" fill="#c0ff00"/>
<rect x="327.35" y="363.24" width="40.98" height="13.69" fill="#8eff00"/>
<rect x="368.33" y="363.24" width="4.1" height="13.69" fill="#0afa00"/>
<rect x="372.43" y="363.24" width="4.1" height="13.69" fill="#50ff00"/>
<rect x="376.53" y="363.24" width="4.1" height="13.69" fill="#0afa00"/>
<rect x="380.63" y="363.24" width="8.19" height="13.69" fill="#8eff00"/>
<rect x="388.82" y="363.24" width="4.1" height="13.69" fill="#50ff00"/>
<rect x="392.92" y="363.24" width="4.1" height="13.69" fill="#0afa00"/>
<rect x="397.02" y="363.24" width="4.1" height="13.69" fill="#00ac58"/>
<rect x="401.12" y="363.24" width="16.39" height="13.69" fill="#0afa00"/>
<rect x="417.51" y="363.24" width="8.19" height="13.69" fill="#00d72d"/>
<rect x="425.7" y="363.24" width="4.1" height="13.69" fill="#00ac58"/>
<rect x="429.8" y="363.24" width="4.1" height="13.69" fill="#00d72d"/>
<rect x="433.9" y="363.24" width="4.1" height="13.69" fill="#0afa00"/>
<rect x="438" y="363.24" width="8.19" height="13.69" fill="#50ff00"/>
<rect x="446.19" y="363.24" width="4.1" height="13.69" fill="#00d72d"/>
<rect x="450.29" y="363.24" width="4.1" height="13.69" fill="#0afa00"/>
<rect x="454.39" y="363.24" width="4.1" height="13.69" fill="#00ac58"/>
<rect x="458.49" y="363.24" width="8.19" height="13.69" fill="#0048c3"/>
<rect x="466.68" y="363.24" width="4.1" height="13.69" fill="#006ea0"/>
<rect x="470.78" y="363.24" width="4.1" height="13.69" fill="#00ac58"/>
<rect x="474.88" y="363.24" width="4.1" height="13.69" fill="#0606ff"/>
<rect x="478.98" y="363.24" width="8.19" height="13.69" fill="#00ac58"/>
<rect x="487.17" y="363.24" width="12.3" height="13.69" fill="#50ff00"/>
<rect x="499.47" y="363.24" width="8.19" height="13.69" fill="#0afa00"/>
<rect x="507.66" y="363.24" width="4.1" height="13.69" fill="#f6fa00"/>
<rect x="114.26" y="376.93" width="4.09" height="13.69" fill="#0afa00"/>
<rect x="118.35" y="376.93" width="4.1" height="13.69" fill="#008a80"/>
<rect x="122.45" y="376.93" width="4.1" height="13.69" fill="#0afa00"/>
<rect x="126.55" y="376.93" width="4.1" height="13.69" fill="#00ac58"/>
<rect x="130.65" y="376.93" width="8.19" height="13.69" fill="#00d72d"/>
<rect x="138.84" y="376.93" width="4.1" height="13.69" fill="#0afa00"/>
<rect x="142.94" y="376.93" width="4.1" height="13.69" fill="#00d72d"/>
<rect x="147.04" y="376.93" width="20.49" height="13.69" fill="#0afa00"/>
<rect x="167.53" y="376.93" width="4.1" height="13.69" fill="#00d72d"/>
<rect x="171.63" y="376.93" width="4.1" height="13.69" fill="#0afa00"/>
<rect x="175.73" y="376.93" width="4.09" height="13.69" fill="#8eff00"/>
<rect x="179.82" y="376.93" width="4.1" height="13.69" fill="#f6fa00"/>
<rect x="183.92" y="376.93" width="4.1" height="13.69" fill="#c0ff00"/>
<rect x="188.02" y="376.93" width="16.39" height="13.69" fill="#50ff00"/>
<rect x="204.41" y="376.93" width="8.2" height="13.69" fill="#00d72d"/>
<rect x="212.61" y="376.93" width="12.29" height="13.69" fill="#0afa00"/>
<rect x="224.9" y="376.93" width="4.1" height="13.69" fill="#00d72d"/>
<rect x="229" y="376.93" width="12.29" height="13.69" fill="#50ff00"/>
<rect x="241.29" y="376.93" width="4.1" height="13.69" fill="#0afa00"/>
<rect x="245.39" y="376.93" width="8.2" height="13.69" fill="#50ff00"/>
<rect x="253.59" y="376.93" width="8.19" height="13.69" fill="#0afa00"/>
<rect x="261.78" y="376.93" width="4.1" height="13.69" fill="#00d72d"/>
<rect x="265.88" y="376.93" width="8.2" height="13.69" fill="#50ff00"/>
<rect x="274.08" y="376.93" width="4.1" height="13.69" fill="#8eff00"/>
<rect x="278.18" y="376.93" width="4.09" height="13.69" fill="#50ff00"/>
<rect x="282.27" y="376.93" width="4.1" height="13.69" fill="#0afa00"/>
<rect x="286.37" y="376.93" width="16.39" height="13.69" fill="#8eff00"/>
<rect x="302.76" y="376.93" width="4.1" height="13.69" fill="#50ff00"/>
<rect x="306.86" y="376.93" width="4.1" height="13.69" fill="#8eff00"/>
<rect x="310.96" y="376.93" width="4.1" height="13.69" fill="#0afa00"/>
<rect x="315.06" y="376.93" width="16.39" height="13.69" fill="#8eff00"/>
<rect x="331.45" y="376.93" width="8.2" height="13.69" fill="#50ff00"/>
<rect x="339.65" y="376.93" width="16.39" height="13.69" fill="#0afa00"/>
<rect x="356.04" y="376.93" width="20.49" height="13.69" fill="#50ff00"/>
<rect x="376.53" y="376.93" width="4.1" height="13.69" fill="#0afa00"/>
<rect x="380.63" y="376.93" width="4.09" height="13.69" fill="#50ff00"/>
<rect x="384.72" y="376.93" width="4.1" height="13.69" fill="#00d72d"/>
<rect x="401.12" y="376.93" width="4.09" height="13.69" fill="#0afa00"/>
<rect x="405.21" y="376.93" width="4.1" height="13.69" fill="#00d72d"/>
<rect x="409.31" y="376.93" width="12.3" height="13.69" fill="#0afa00"/>
<rect x="421.61" y="376.93" width="4.09" height="13.69" fill="#00d72d"/>
<rect x="425.7" y="376.93" width="4.1" height="13.69" fill="#008a80"/>
<rect x="429.8" y="376.93" width="8.2" height="13.69" fill="#0afa00"/>
<rect x="438" y="376.93" width="8.19" height="13.69" fill="#8eff00"/>
<rect x="446.19" y="376.93" width="4.1" height="13.69" fill="#0afa00"/>
<rect x="450.29" y="376.93" width="16.39" height="13.69" fill="#0048c3"/>
<rect x="466.68" y="376.93" width="8.2" height="13.69" fill="#00c044"/>
<rect x="474.88" y="376.93" width="4.1" height="13.69" fill="#008a80"/>
<rect x="478.98" y="376.93" width="4.1" height="13.69" fill="#0afa00"/>
<rect x="483.08" y="376.93" width="4.09" height="13.69" fill="#00ac58"/>
<rect x="487.17" y="376.93" width="4.1" height="13.69" fill="#0afa00"/>
<rect x="491.27" y="376.93" width="4.1" height="13.69" fill="#00d72d"/>
<rect x="495.37" y="376.93" width="4.1" height="13.69" fill="#0afa00"/>
<rect x="499.47" y="376.93" width="4.1" height="13.69" fill="#8eff00"/>
<rect x="118.35" y="390.62" width="4.1" height="13.69" fill="#0afa00"/>
<rect x="122.45" y="390.62" width="4.1" height="13.69" fill="#50ff00"/>
<rect x="126.55" y="390.62" width="4.1" height="13.69" fill="#00ac58"/>
<rect x="130.65" y="390.62" width="4.1" height="13.69" fill="#00d72d"/>
<rect x="134.75" y="390.62" width="8.19" height="13.69" fill="#00ac58"/>
<rect x="142.94" y="390.62" width="4.1" height="13.69" fill="#00d72d"/>
<rect x="151.14" y="390.62" width="4.1" height="13.69" fill="#8eff00"/>
<rect x="155.24" y="390.62" width="4.09" height="13.69" fill="#0afa00"/>
<rect x="159.33" y="390.62" width="4.1" height="13.69" fill="#f6fa00"/>
<rect x="163.43" y="390.62" width="4.1" height="13.69" fill="#0afa00"/>
<rect x="167.53" y="390.62" width="4.1" height="13.69" fill="#c0ff00"/>
<rect x="171.63" y="390.62" width="8.19" height="13.69" fill="#0afa00"/>
<rect x="179.82" y="390.62" width="4.1" height="13.69" fill="#50ff00"/>
<rect x="183.92" y="390.62" width="4.1" height="13.69" fill="#0afa00"/>
<rect x="188.02" y="390.62" width="4.1" height="13.69" fill="#8eff00"/>
<rect x="192.12" y="390.62" width="4.1" height="13.69" fill="#0afa00"/>
<rect x="196.22" y="390.62" width="4.09" height="13.69" fill="#c0ff00"/>
<rect x="200.31" y="390.62" width="28.69" height="13.69" fill="#0afa00"/>
<rect x="229" y="390.62" width="8.2" height="13.69" fill="#00d72d"/>
<rect x="237.2" y="390.62" width="8.19" height="13.69" fill="#50ff00"/>
<rect x="245.39" y="390.62" width="8.2" height="13.69" fill="#8eff00"/>
<rect x="253.59" y="390.62" width="4.1" height="13.69" fill="#50ff00"/>
<rect x="257.69" y="390.62" width="4.09" height="13.69" fill="#8eff00"/>
<rect x="261.78" y="390.62" width="8.2" height="13.69" fill="#50ff00"/>
<rect x="269.98" y="390.62" width="4.1" height="13.69" fill="#8eff00"/>
<rect x="274.08" y="390.62" width="4.1" height="13.69" fill="#50ff00"/>
<rect x="278.18" y="390.62" width="4.09" height="13.69" fill="#f6fa00"/>
<rect x="282.27" y="390.62" width="8.2" height="13.69" fill="#0afa00"/>
<rect x="290.47" y="390.62" width="4.1" height="13.69" fill="#00ac58"/>
<rect x="294.57" y="390.62" width="12.29" height="13.69" fill="#50ff00"/>
<rect x="306.86" y="390.62" width="4.1" height="13.69" fill="#0afa00"/>
<rect x="310.96" y="390.62" width="4.1" height="13.69" fill="#00ac58"/>
<rect x="315.06" y="390.62" width="4.1" height="13.69" fill="#50ff00"/>
<rect x="319.16" y="390.62" width="4.09" height="13.69" fill="#00c044"/>
<rect x="323.25" y="390.62" width="16.4" height="13.69" fill="#0afa00"/>
<rect x="339.65" y="390.62" width="4.09" height="13.69" fill="#00ac58"/>
<rect x="343.74" y="390.62" width="4.1" height="13.69" fill="#50ff00"/>
<rect x="347.84" y="390.62" width="4.1" height="13.69" fill="#00d72d"/>
<rect x="351.94" y="390.62" width="4.1" height="13.69" fill="#c0ff00"/>
<rect x="356.04" y="390.62" width="8.19" height="13.69" fill="#50ff00"/>
<rect x="364.23" y="390.62" width="12.3" height="13.69" fill="#0afa00"/>
<rect x="376.53" y="390.62" width="4.1" height="13.69" fill="#f6fa00"/>
<rect x="380.63" y="390.62" width="4.09" height="13.69" fill="#50ff00"/>
<rect x="384.72" y="390.62" width="12.3" height="13.69" fill="#0afa00"/>
<rect x="397.02" y="390.62" width="4.1" height="13.69" fill="#00ac58"/>
<rect x="401.12" y="390.62" width="4.09" height="13.69" fill="#00d72d"/>
<rect x="405.21" y="390.62" width="20.49" height="13.69" fill="#0afa00"/>
<rect x="425.7" y="390.62" width="4.1" height="13.69" fill="#50ff00"/>
<rect x="429.8" y="390.62" width="4.1" height="13.69" fill="#8eff00"/>
<rect x="433.9" y="390.62" width="12.29" height="13.69" fill="#00d72d"/>
<rect x="446.19" y="390.62" width="4.1" height="13.69" fill="#00ac58"/>
<rect x="450.29" y="390.62" width="4.1" height="13.69" fill="#00d72d"/>
<rect x="454.39" y="390.62" width="4.1" height="13.69" fill="#ffcd00"/>
<rect x="458.49" y="390.62" width="4.1" height="13.69" fill="#00c044"/>
<rect x="462.59" y="390.62" width="4.09" height="13.69" fill="#00d72d"/>
<rect x="466.68" y="390.62" width="8.2" height="13.69" fill="#0afa00"/>
<rect x="474.88" y="390.62" width="12.29" height="13.69" fill="#00d72d"/>
<rect x="487.17" y="390.62" width="8.2" height="13.69" fill="#0afa00"/>
<rect x="495.37" y="390.62" width="4.1" height="13.69" fill="#c0ff00"/>
<rect x="126.55" y="404.31" width="8.2" height="13.69" fill="#0afa00"/>
<rect x="134.75" y="404.31" width="4.09" height="13.69" fill="#00ac58"/>
<rect x="138.84" y="404.31" width="4.1" height="13.69" fill="#0afa00"/>
<rect x="142.94" y="404.31" width="4.1" height="13.69" fill="#00d72d"/>
<rect x="147.04" y="404.31" width="4.1" height="13.69" fill="#008a80"/>
<rect x="151.14" y="404.31" width="12.29" height="13.69" fill="#00d72d"/>
<rect x="163.43" y="404.31" width="12.3" height="13.69" fill="#00c044"/>
<rect x="175.73" y="404.31" width="4.09" height="13.69" fill="#008a80"/>
<rect x="179.82" y="404.31" width="4.1" height="13.69" fill="#00d72d"/>
<rect x="183.92" y="404.31" width="4.1" height="13.69" fill="#0afa00"/>
<rect x="188.02" y="404.31" width="8.2" height="13.69" fill="#00d72d"/>
<rect x="196.22" y="404.31" width="8.19" height="13.69" fill="#50ff00"/>
<rect x="204.41" y="404.31" width="4.1" height="13.69" fill="#0afa00"/>
<rect x="208.51" y="404.31" width="4.1" height="13.69" fill="#8eff00"/>
<rect x="212.61" y="404.31" width="4.1" height="13.69" fill="#50ff00"/>
<rect x="216.71" y="404.31" width="12.29" height="13.69" fill="#8eff00"/>
<rect x="229" y="404.31" width="28.69" height="13.69" fill="#0afa00"/>
<rect x="257.69" y="404.31" width="4.09" height="13.69" fill="#50ff00"/>
<rect x="261.78" y="404.31" width="4.1" height="13.69" fill="#0afa00"/>
<rect x="265.88" y="404.31" width="4.1" height="13.69" fill="#50ff00"/>
<rect x="269.98" y="404.31" width="4.1" height="13.69" fill="#0afa00"/>
<rect x="274.08" y="404.31" width="12.29" height="13.69" fill="#50ff00"/>
<rect x="286.37" y="404.31" width="4.1" height="13.69" fill="#8eff00"/>
<rect x="290.47" y="404.31" width="4.1" height="13.69" fill="#0afa00"/>
<rect x="294.57" y="404.31" width="4.1" height="13.69" fill="#50ff00"/>
<rect x="298.67" y="404.31" width="12.29" height="13.69" fill="#8eff00"/>
<rect x="310.96" y="404.31" width="4.1" height="13.69" fill="#50ff00"/>
<rect x="315.06" y="404.31" width="4.1" height="13.69" fill="#8eff00"/>
<rect x="319.16" y="404.31" width="4.09" height="13.69" fill="#0afa00"/>
<rect x="323.25" y="404.31" width="8.2" height="13.69" fill="#50ff00"/>
<rect x="331.45" y="404.31" width="8.2" height="13.69" fill="#0afa00"/>
<rect x="339.65" y="404.31" width="4.09" height="13.69" fill="#00d72d"/>
<rect x="343.74" y="404.31" width="4.1" height="13.69" fill="#0afa00"/>
<rect x="347.84" y="404.31" width="4.1" height="13.69" fill="#00d72d"/>
<rect x="351.94" y="404.31" width="4.1" height="13.69" fill="#0afa00"/>
<rect x="356.04" y="404.31" width="4.1" height="13.69" fill="#00d72d"/>
<rect x="360.14" y="404.31" width="4.09" height="13.69" fill="#00ac58"/>
<rect x="364.23" y="404.31" width="8.2" height="13.69" fill="#008a80"/>
<rect x="372.43" y="404.31" width="4.1" height="13.69" fill="#0afa00"/>
<rect x="376.53" y="404.31" width="4.1" height="13.69" fill="#006ea0"/>
<rect x="380.63" y="404.31" width="12.29" height="13.69" fill="#00d72d"/>
<rect x="392.92" y="404.31" width="4.1" height="13.69" fill="#0afa00"/>
<rect x="397.02" y="404.31" width="4.1" height="13.69" fill="#0606ff"/>
<rect x="405.21" y="404.31" width="4.1" height="13.69" fill="#006ea0"/>
<rect x="409.31" y="404.31" width="12.3" height="13.69" fill="#0afa00"/>
<rect x="421.61" y="404.31" width="4.09" height="13.69" fill="#50ff00"/>
<rect x="425.7" y="404.31" width="8.2" height="13.69" fill="#00c044"/>
<rect x="433.9" y="404.31" width="4.1" height="13.69" fill="#0048c3"/>
<rect x="438" y="404.31" width="4.1" height="13.69" fill="#00d72d"/>
<rect x="442.1" y="404.31" width="8.19" height="13.69" fill="#006ea0"/>
<rect x="450.29" y="404.31" width="4.1" height="13.69" fill="#0afa00"/>
<rect x="454.39" y="404.31" width="4.1" height="13.69" fill="#00c044"/>
<rect x="458.49" y="404.31" width="12.29" height="13.69" fill="#0afa00"/>
<rect x="470.78" y="404.31" width="4.1" height="13.69" fill="#00d72d"/>
<rect x="474.88" y="404.31" width="4.1" height="13.69" fill="#008a80"/>
<rect x="478.98" y="404.31" width="8.19" height="13.69" fill="#0afa00"/>
<rect x="487.17" y="404.31" width="4.1" height="13.69" fill="#8eff00"/>
<rect x="138.84" y="418" width="8.2" height="13.69" fill="#0afa00"/>
<rect x="147.04" y="418" width="4.1" height="13.69" fill="#0048c3"/>
<rect x="151.14" y="418" width="4.1" height="13.69" fill="#0afa00"/>
<rect x="155.24" y="418" width="8.19" height="13.69" fill="#0048c3"/>
<rect x="163.43" y="418" width="4.1" height="13.69" fill="#008a80"/>
<rect x="167.53" y="418" width="4.1" height="13.69" fill="#0048c3"/>
<rect x="171.63" y="418" width="4.1" height="13.69" fill="#008a80"/>
<rect x="175.73" y="418" width="4.09" height="13.69" fill="#0048c3"/>
<rect x="179.82" y="418" width="4.1" height="13.69" fill="#008a80"/>
<rect x="183.92" y="418" width="4.1" height="13.69" fill="#006ea0"/>
<rect x="188.02" y="418" width="4.1" height="13.69" fill="#0afa00"/>
<rect x="192.12" y="418" width="8.19" height="13.69" fill="#008a80"/>
<rect x="200.31" y="418" width="4.1" height="13.69" fill="#00ac58"/>
<rect x="204.41" y="418" width="4.1" height="13.69" fill="#00d72d"/>
<rect x="208.51" y="418" width="4.1" height="13.69" fill="#0afa00"/>
<rect x="212.61" y="418" width="8.19" height="13.69" fill="#50ff00"/>
<rect x="220.8" y="418" width="4.1" height="13.69" fill="#8eff00"/>
<rect x="224.9" y="418" width="8.2" height="13.69" fill="#50ff00"/>
<rect x="233.1" y="418" width="16.39" height="13.69" fill="#0afa00"/>
<rect x="249.49" y="418" width="8.2" height="13.69" fill="#00d72d"/>
<rect x="257.69" y="418" width="4.09" height="13.69" fill="#0afa00"/>
<rect x="261.78" y="418" width="4.1" height="13.69" fill="#008a80"/>
<rect x="265.88" y="418" width="4.1" height="13.69" fill="#0afa00"/>
<rect x="269.98" y="418" width="4.1" height="13.69" fill="#00d72d"/>
<rect x="274.08" y="418" width="8.19" height="13.69" fill="#0afa00"/>
<rect x="282.27" y="418" width="4.1" height="13.69" fill="#00d72d"/>
<rect x="286.37" y="418" width="8.2" height="13.69" fill="#0afa00"/>
<rect x="294.57" y="418" width="8.19" height="13.69" fill="#50ff00"/>
<rect x="302.76" y="418" width="4.1" height="13.69" fill="#8eff00"/>
<rect x="306.86" y="418" width="4.1" height="13.69" fill="#50ff00"/>
<rect x="310.96" y="418" width="4.1" height="13.69" fill="#00d72d"/>
<rect x="315.06" y="418" width="8.19" height="13.69" fill="#50ff00"/>
<rect x="323.25" y="418" width="16.4" height="13.69" fill="#0afa00"/>
<rect x="339.65" y="418" width="4.09" height="13.69" fill="#006ea0"/>
<rect x="343.74" y="418" width="4.1" height="13.69" fill="#0afa00"/>
<rect x="347.84" y="418" width="4.1" height="13.69" fill="#00d72d"/>
<rect x="351.94" y="418" width="8.2" height="13.69" fill="#0afa00"/>
<rect x="360.14" y="418" width="4.09" height="13.69" fill="#00d72d"/>
<rect x="364.23" y="418" width="8.2" height="13.69" fill="#0afa00"/>
<rect x="372.43" y="418" width="4.1" height="13.69" fill="#00d72d"/>
<rect x="376.53" y="418" width="20.49" height="13.69" fill="#0afa00"/>
<rect x="397.02" y="418" width="4.1" height="13.69" fill="#00d72d"/>
<rect x="401.12" y="418" width="4.09" height="13.69" fill="#0afa00"/>
<rect x="405.21" y="418" width="4.1" height="13.69" fill="#00d72d"/>
<rect x="409.31" y="418" width="12.3" height="13.69" fill="#0afa00"/>
<rect x="421.61" y="418" width="4.09" height="13.69" fill="#00ac58"/>
<rect x="425.7" y="418" width="4.1" height="13.69" fill="#0048c3"/>
<rect x="429.8" y="418" width="4.1" height="13.69" fill="#006ea0"/>
<rect x="433.9" y="418" width="4.1" height="13.69" fill="#00ac58"/>
<rect x="438" y="418" width="4.1" height="13.69" fill="#00d72d"/>
<rect x="442.1" y="418" width="4.09" height="13.69" fill="#0afa00"/>
<rect x="446.19" y="418" width="8.2" height="13.69" fill="#00d72d"/>
<rect x="454.39" y="418" width="4.1" height="13.69" fill="#008a80"/>
<rect x="458.49" y="418" width="16.39" height="13.69" fill="#00c044"/>
<rect x="474.88" y="418" width="4.1" height="13.69" fill="#0afa00"/>
<rect x="147.04" y="431.69" width="8.2" height="13.69" fill="#0afa00"/>
<rect x="155.24" y="431.69" width="4.09" height="13.69" fill="#006ea0"/>
<rect x="159.33" y="431.69" width="4.1" height="13.69" fill="#0048c3"/>
<rect x="163.43" y="431.69" width="4.1" height="13.69" fill="#00ac58"/>
<rect x="167.53" y="431.69" width="8.2" height="13.69" fill="#006ea0"/>
<rect x="175.73" y="431.69" width="4.09" height="13.69" fill="#0606ff"/>
<rect x="179.82" y="431.69" width="20.49" height="13.69" fill="#0048c3"/>
<rect x="200.31" y="431.69" width="8.2" height="13.69" fill="#00ac58"/>
<rect x="208.51" y="431.69" width="4.1" height="13.69" fill="#0afa00"/>
<rect x="212.61" y="431.69" width="4.1" height="13.69" fill="#00d72d"/>
<rect x="216.71" y="431.69" width="8.19" height="13.69" fill="#8eff00"/>
<rect x="224.9" y="431.69" width="4.1" height="13.69" fill="#0afa00"/>
<rect x="229" y="431.69" width="16.39" height="13.69" fill="#50ff00"/>
<rect x="245.39" y="431.69" width="16.39" height="13.69" fill="#0afa00"/>
<rect x="261.78" y="431.69" width="4.1" height="13.69" fill="#00d72d"/>
<rect x="265.88" y="431.69" width="16.39" height="13.69" fill="#0afa00"/>
<rect x="282.27" y="431.69" width="8.2" height="13.69" fill="#00d72d"/>
<rect x="290.47" y="431.69" width="4.1" height="13.69" fill="#0afa00"/>
<rect x="294.57" y="431.69" width="8.19" height="13.69" fill="#50ff00"/>
<rect x="302.76" y="431.69" width="8.2" height="13.69" fill="#0afa00"/>
<rect x="310.96" y="431.69" width="4.1" height="13.69" fill="#00d72d"/>
<rect x="315.06" y="431.69" width="8.19" height="13.69" fill="#0afa00"/>
<rect x="323.25" y="431.69" width="8.2" height="13.69" fill="#50ff00"/>
<rect x="331.45" y="431.69" width="4.1" height="13.69" fill="#0afa00"/>
<rect x="335.55" y="431.69" width="4.1" height="13.69" fill="#50ff00"/>
<rect x="339.65" y="431.69" width="4.09" height="13.69" fill="#00d72d"/>
<rect x="343.74" y="431.69" width="8.2" height="13.69" fill="#50ff00"/>
<rect x="351.94" y="431.69" width="4.1" height="13.69" fill="#0afa00"/>
<rect x="356.04" y="431.69" width="12.29" height="13.69" fill="#50ff00"/>
<rect x="368.33" y="431.69" width="4.1" height="13.69" fill="#00d72d"/>
<rect x="372.43" y="431.69" width="8.2" height="13.69" fill="#0afa00"/>
<rect x="380.63" y="431.69" width="16.39" height="13.69" fill="#50ff00"/>
<rect x="397.02" y="431.69" width="4.1" height="13.69" fill="#00d72d"/>
<rect x="401.12" y="431.69" width="4.09" height="13.69" fill="#0afa00"/>
<rect x="405.21" y="431.69" width="4.1" height="13.69" fill="#006ea0"/>
<rect x="409.31" y="431.69" width="8.2" height="13.69" fill="#008a80"/>
<rect x="417.51" y="431.69" width="4.1" height="13.69" fill="#0048c3"/>
<rect x="421.61" y="431.69" width="8.19" height="13.69" fill="#00ac58"/>
<rect x="429.8" y="431.69" width="8.2" height="13.69" fill="#00d72d"/>
<rect x="438" y="431.69" width="8.19" height="13.69" fill="#00ac58"/>
<rect x="446.19" y="431.69" width="4.1" height="13.69" fill="#0048c3"/>
<rect x="450.29" y="431.69" width="4.1" height="13.69" fill="#00ac58"/>
<rect x="454.39" y="431.69" width="4.1" height="13.69" fill="#0048c3"/>
<rect x="458.49" y="431.69" width="8.19" height="13.69" fill="#0afa00"/>
<rect x="466.68" y="431.69" width="4.1" height="13.69" fill="#8eff00"/>
<rect x="163.43" y="445.38" width="4.1" height="13.69" fill="#0afa00"/>
<rect x="167.53" y="445.38" width="8.2" height="13.69" fill="#00ac58"/>
<rect x="175.73" y="445.38" width="8.19" height="13.69" fill="#0048c3"/>
<rect x="183.92" y="445.38" width="12.3" height="13.69" fill="#0606ff"/>
<rect x="196.22" y="445.38" width="4.09" height="13.69" fill="#0048c3"/>
<rect x="200.31" y="445.38" width="4.1" height="13.69" fill="#00ac58"/>
<rect x="204.41" y="445.38" width="4.1" height="13.69" fill="#0048c3"/>
<rect x="208.51" y="445.38" width="8.2" height="13.69" fill="#008a80"/>
<rect x="216.71" y="445.38" width="8.19" height="13.69" fill="#00c044"/>
<rect x="224.9" y="445.38" width="8.2" height="13.69" fill="#0afa00"/>
<rect x="233.1" y="445.38" width="12.29" height="13.69" fill="#00d72d"/>
<rect x="245.39" y="445.38" width="4.1" height="13.69" fill="#50ff00"/>
<rect x="249.49" y="445.38" width="4.1" height="13.69" fill="#8eff00"/>
<rect x="253.59" y="445.38" width="4.1" height="13.69" fill="#0afa00"/>
<rect x="257.69" y="445.38" width="45.07" height="13.69" fill="#50ff00"/>
<rect x="302.76" y="445.38" width="8.2" height="13.69" fill="#8eff00"/>
<rect x="310.96" y="445.38" width="4.1" height="13.69" fill="#50ff00"/>
<rect x="315.06" y="445.38" width="4.1" height="13.69" fill="#8eff00"/>
<rect x="319.16" y="445.38" width="4.09" height="13.69" fill="#0afa00"/>
<rect x="323.25" y="445.38" width="4.1" height="13.69" fill="#8eff00"/>
<rect x="327.35" y="445.38" width="4.1" height="13.69" fill="#0afa00"/>
<rect x="331.45" y="445.38" width="8.2" height="13.69" fill="#8eff00"/>
<rect x="339.65" y="445.38" width="4.09" height="13.69" fill="#00d72d"/>
<rect x="343.74" y="445.38" width="4.1" height="13.69" fill="#8eff00"/>
<rect x="347.84" y="445.38" width="4.1" height="13.69" fill="#00d72d"/>
<rect x="351.94" y="445.38" width="4.1" height="13.69" fill="#8eff00"/>
<rect x="356.04" y="445.38" width="4.1" height="13.69" fill="#50ff00"/>
<rect x="360.14" y="445.38" width="4.09" height="13.69" fill="#8eff00"/>
<rect x="364.23" y="445.38" width="4.1" height="13.69" fill="#50ff00"/>
<rect x="368.33" y="445.38" width="4.1" height="13.69" fill="#00d72d"/>
<rect x="372.43" y="445.38" width="4.1" height="13.69" fill="#8eff00"/>
<rect x="376.53" y="445.38" width="4.1" height="13.69" fill="#0afa00"/>
<rect x="380.63" y="445.38" width="8.19" height="13.69" fill="#00ac58"/>
<rect x="388.82" y="445.38" width="8.2" height="13.69" fill="#008a80"/>
<rect x="397.02" y="445.38" width="4.1" height="13.69" fill="#0606ff"/>
<rect x="401.12" y="445.38" width="20.49" height="13.69" fill="#00ac58"/>
<rect x="421.61" y="445.38" width="4.09" height="13.69" fill="#008a80"/>
<rect x="425.7" y="445.38" width="4.1" height="13.69" fill="#0048c3"/>
<rect x="429.8" y="445.38" width="8.2" height="13.69" fill="#006ea0"/>
<rect x="438" y="445.38" width="4.1" height="13.69" fill="#0048c3"/>
<rect x="442.1" y="445.38" width="4.09" height="13.69" fill="#00d72d"/>
<rect x="446.19" y="445.38" width="4.1" height="13.69" fill="#006ea0"/>
<rect x="450.29" y="445.38" width="4.1" height="13.69" fill="#0afa00"/>
<rect x="179.82" y="459.07" width="4.1" height="13.69" fill="#0afa00"/>
<rect x="183.92" y="459.07" width="12.3" height="13.69" fill="#008a80"/>
<rect x="196.22" y="459.07" width="4.09" height="13.69" fill="#00ac58"/>
<rect x="200.31" y="459.07" width="8.2" height="13.69" fill="#0048c3"/>
<rect x="208.51" y="459.07" width="4.1" height="13.69" fill="#00d72d"/>
<rect x="212.61" y="459.07" width="4.1" height="13.69" fill="#00ac58"/>
<rect x="216.71" y="459.07" width="4.09" height="13.69" fill="#0afa00"/>
<rect x="220.8" y="459.07" width="4.1" height="13.69" fill="#00ac58"/>
<rect x="224.9" y="459.07" width="8.2" height="13.69" fill="#0048c3"/>
<rect x="233.1" y="459.07" width="4.1" height="13.69" fill="#0606ff"/>
<rect x="237.2" y="459.07" width="4.09" height="13.69" fill="#0048c3"/>
<rect x="241.29" y="459.07" width="8.2" height="13.69" fill="#00ac58"/>
<rect x="249.49" y="459.07" width="4.1" height="13.69" fill="#008a80"/>
<rect x="253.59" y="459.07" width="4.1" height="13.69" fill="#0afa00"/>
<rect x="257.69" y="459.07" width="4.09" height="13.69" fill="#00d72d"/>
<rect x="261.78" y="459.07" width="4.1" height="13.69" fill="#008a80"/>
<rect x="265.88" y="459.07" width="8.2" height="13.69" fill="#0afa00"/>
<rect x="274.08" y="459.07" width="8.19" height="13.69" fill="#50ff00"/>
<rect x="282.27" y="459.07" width="4.1" height="13.69" fill="#0afa00"/>
<rect x="286.37" y="459.07" width="4.1" height="13.69" fill="#50ff00"/>
<rect x="290.47" y="459.07" width="4.1" height="13.69" fill="#00d72d"/>
<rect x="294.57" y="459.07" width="4.1" height="13.69" fill="#0afa00"/>
<rect x="298.67" y="459.07" width="4.09" height="13.69" fill="#0048c3"/>
<rect x="315.06" y="459.07" width="4.1" height="13.69" fill="#006ea0"/>
<rect x="319.16" y="459.07" width="4.09" height="13.69" fill="#0048c3"/>
<rect x="323.25" y="459.07" width="4.1" height="13.69" fill="#00ac58"/>
<rect x="327.35" y="459.07" width="4.1" height="13.69" fill="#00d72d"/>
<rect x="331.45" y="459.07" width="8.2" height="13.69" fill="#8eff00"/>
<rect x="339.65" y="459.07" width="4.09" height="13.69" fill="#50ff00"/>
<rect x="343.74" y="459.07" width="4.1" height="13.69" fill="#8eff00"/>
<rect x="347.84" y="459.07" width="12.3" height="13.69" fill="#00d72d"/>
<rect x="360.14" y="459.07" width="4.09" height="13.69" fill="#00ac58"/>
<rect x="364.23" y="459.07" width="4.1" height="13.69" fill="#0afa00"/>
<rect x="368.33" y="459.07" width="4.1" height="13.69" fill="#0048c3"/>
<rect x="372.43" y="459.07" width="4.1" height="13.69" fill="#00ac58"/>
<rect x="376.53" y="459.07" width="8.19" height="13.69" fill="#0606ff"/>
<rect x="384.72" y="459.07" width="4.1" height="13.69" fill="#006ea0"/>
<rect x="388.82" y="459.07" width="8.2" height="13.69" fill="#0048c3"/>
<rect x="397.02" y="459.07" width="8.19" height="13.69" fill="#0afa00"/>
<rect x="405.21" y="459.07" width="16.4" height="13.69" fill="#0048c3"/>
<rect x="421.61" y="459.07" width="4.09" height="13.69" fill="#008a80"/>
<rect x="425.7" y="459.07" width="4.1" height="13.69" fill="#0606ff"/>
<rect x="429.8" y="459.07" width="4.1" height="13.69" fill="#0048c3"/>
<rect x="433.9" y="459.07" width="4.1" height="13.69" fill="#00ac58"/>
<rect x="200.31" y="472.76" width="4.1" height="13.69" fill="#0afa00"/>
<rect x="204.41" y="472.76" width="4.1" height="13.69" fill="#00d72d"/>
<rect x="208.51" y="472.76" width="4.1" height="13.69" fill="#0afa00"/>
<rect x="212.61" y="472.76" width="8.19" height="13.69" fill="#00ac58"/>
<rect x="220.8" y="472.76" width="4.1" height="13.69" fill="#008a80"/>
<rect x="224.9" y="472.76" width="4.1" height="13.69" fill="#0606ff"/>
<rect x="229" y="472.76" width="4.1" height="13.69" fill="#0048c3"/>
<rect x="233.1" y="472.76" width="4.1" height="13.69" fill="#0606ff"/>
<rect x="237.2" y="472.76" width="4.09" height="13.69" fill="#00ac58"/>
<rect x="241.29" y="472.76" width="12.3" height="13.69" fill="#0048c3"/>
<rect x="253.59" y="472.76" width="12.29" height="13.69" fill="#0606ff"/>
<rect x="265.88" y="472.76" width="4.1" height="13.69" fill="#00ac58"/>
<rect x="269.98" y="472.76" width="4.1" height="13.69" fill="#0606ff"/>
<rect x="274.08" y="472.76" width="4.1" height="13.69" fill="#006ea0"/>
<rect x="278.18" y="472.76" width="4.09" height="13.69" fill="#0048c3"/>
<rect x="282.27" y="472.76" width="8.2" height="13.69" fill="#008a80"/>
<rect x="290.47" y="472.76" width="4.1" height="13.69" fill="#0606ff"/>
<rect x="294.57" y="472.76" width="8.19" height="13.69" fill="#0048c3"/>
<rect x="315.06" y="472.76" width="4.1" height="13.69" fill="#0048c3"/>
<rect x="319.16" y="472.76" width="4.09" height="13.69" fill="#006ea0"/>
<rect x="323.25" y="472.76" width="12.3" height="13.69" fill="#00ac58"/>
<rect x="335.55" y="472.76" width="4.1" height="13.69" fill="#00d72d"/>
<rect x="339.65" y="472.76" width="4.09" height="13.69" fill="#0606ff"/>
<rect x="343.74" y="472.76" width="4.1" height="13.69" fill="#0afa00"/>
<rect x="347.84" y="472.76" width="8.2" height="13.69" fill="#0048c3"/>
<rect x="356.04" y="472.76" width="12.29" height="13.69" fill="#00ac58"/>
<rect x="368.33" y="472.76" width="4.1" height="13.69" fill="#0606ff"/>
<rect x="372.43" y="472.76" width="4.1" height="13.69" fill="#0048c3"/>
<rect x="376.53" y="472.76" width="4.1" height="13.69" fill="#8eff00"/>
<rect x="380.63" y="472.76" width="4.09" height="13.69" fill="#0048c3"/>
<rect x="384.72" y="472.76" width="8.2" height="13.69" fill="#0606ff"/>
<rect x="392.92" y="472.76" width="4.1" height="13.69" fill="#0048c3"/>
<rect x="397.02" y="472.76" width="4.1" height="13.69" fill="#0606ff"/>
<rect x="401.12" y="472.76" width="4.09" height="13.69" fill="#006ea0"/>
<rect x="405.21" y="472.76" width="4.1" height="13.69" fill="#0606ff"/>
<rect x="409.31" y="472.76" width="4.1" height="13.69" fill="#0048c3"/>
<rect x="413.41" y="472.76" width="4.1" height="13.69" fill="#008a80"/>
<rect x="229" y="486.45" width="4.1" height="13.69" fill="#0afa00"/>
<rect x="233.1" y="486.45" width="16.39" height="13.69" fill="#008a80"/>
<rect x="249.49" y="486.45" width="4.1" height="13.69" fill="#0606ff"/>
<rect x="257.69" y="486.45" width="28.68" height="13.69" fill="#402cff"/>
<rect x="286.37" y="486.45" width="4.1" height="13.69" fill="#0606ff"/>
<rect x="290.47" y="486.45" width="4.1" height="13.69" fill="#402cff"/>
<rect x="315.06" y="486.45" width="4.1" height="13.69" fill="#0606ff"/>
<rect x="319.16" y="486.45" width="4.09" height="13.69" fill="#402cff"/>
<rect x="323.25" y="486.45" width="16.4" height="13.69" fill="#0606ff"/>
<rect x="339.65" y="486.45" width="12.29" height="13.69" fill="#402cff"/>
<rect x="351.94" y="486.45" width="4.1" height="13.69" fill="#0606ff"/>
<rect x="356.04" y="486.45" width="8.19" height="13.69" fill="#402cff"/>
<rect x="364.23" y="486.45" width="4.1" height="13.69" fill="#0606ff"/>
<rect x="368.33" y="486.45" width="4.1" height="13.69" fill="#402cff"/>
<rect x="372.43" y="486.45" width="4.1" height="13.69" fill="#0606ff"/>
<rect x="376.53" y="486.45" width="4.1" height="13.69" fill="#402cff"/>
<rect x="380.63" y="486.45" width="8.19" height="13.69" fill="#0606ff"/>
</g>
<g stroke="#000" stroke-width="1" fill="none">
<line x1="68.1" y1="44.5" x2="68.1" y2="539"/>
<line x1="62" y1="51" x2="556" y2="51"/>
<line x1="549.5" y1="44.5" x2="549.5" y2="539"/>
<line x1="62" y1="532.5" x2="556" y2="532.5"/>
<line x1="68" y1="532.5" x2="68" y2="539"/>
<line x1="68" y1="44.5" x2="68" y2="51"/>
<line x1="62" y1="532.5" x2="68" y2="532.5"/>
<line x1="549.5" y1="532.5" x2="556" y2="532.5"/>
<line x1="116.15" y1="532.5" x2="116.15" y2="539"/>
<line x1="116.15" y1="44.5" x2="116.15" y2="51"/>
<line x1="62" y1="484.35" x2="68" y2="484.35"/>
<line x1="549.5" y1="484.35" x2="556" y2="484.35"/>
<line x1="164.3" y1="532.5" x2="164.3" y2="539"/>
<line x1="164.3" y1="44.5" x2="164.3" y2="51"/>
<line x1="62" y1="436.2" x2="68" y2="436.2"/>
<line x1="549.5" y1="436.2" x2="556" y2="436.2"/>
<line x1="212.45" y1="532.5" x2="212.45" y2="539"/>
<line x1="212.45" y1="44.5" x2="212.45" y2="51"/>
<line x1="62" y1="388.05" x2="68" y2="388.05"/>
<line x1="549.5" y1="388.05" x2="556" y2="388.05"/>
<line x1="260.6" y1="532.5" x2="260.6" y2="539"/>
<line x1="260.6" y1="44.5" x2="260.6" y2="51"/>
<line x1="62" y1="339.9" x2="68" y2="339.9"/>
<line x1="549.5" y1="339.9" x2="556" y2="339.9"/>
<line x1="308.75" y1="532.5" x2="308.75" y2="539"/>
<line x1="308.75" y1="44.5" x2="308.75" y2="51"/>
<line x1="62" y1="291.75" x2="68" y2="291.75"/>
<line x1="549.5" y1="291.75" x2="556" y2="291.75"/>
<line x1="356.9" y1="532.5" x2="356.9" y2="539"/>
<line x1="356.9" y1="44.5" x2="356.9" y2="51"/>
<line x1="62" y1="243.6" x2="68" y2="243.6"/>
<line x1="549.5" y1="243.6" x2="556" y2="243.6"/>
<line x1="405.05" y1="532.5" x2="405.05" y2="539"/>
<line x1="405.05" y1="44.5" x2="405.05" y2="51"/>
<line x1="62" y1="195.45" x2="68" y2="195.45"/>
<line x1="549.5" y1="195.45" x2="556" y2="195.45"/>
<line x1="453.2" y1="532.5" x2="453.2" y2="539"/>
<line x1="453.2" y1="44.5" x2="453.2" y2="51"/>
<line x1="62" y1="147.3" x2="68" y2="147.3"/>
<line x1="549.5" y1="147.3" x2="556" y2="147.3"/>
<line x1="501.35" y1="532.5" x2="501.35" y2="539"/>
<line x1="501.35" y1="44.5" x2="501.35" y2="51"/>
<line x1="62" y1="99.15" x2="68" y2="99.15"/>
<line x1="549.5" y1="99.15" x2="556" y2="99.15"/>
<line x1="549.5" y1="532.5" x2="549.5" y2="539"/>
<line x1="549.5" y1="44.5" x2="549.5" y2="51"/>
<line x1="62" y1="51" x2="68" y2="51"/>
<line x1="549.5" y1="51" x2="556" y2="51"/>
</g>
<rect x="591.5" y="123" width="20.5" height="329" fill="url(#cb)" stroke="#222" stroke-width="1"/>
<g stroke="#000" stroke-width="1">
<line x1="612" y1="123" x2="617.5" y2="123"/>
<line x1="612" y1="170" x2="617.5" y2="170"/>
<line x1="612" y1="217" x2="617.5" y2="217"/>
<line x1="612" y1="264" x2="617.5" y2="264"/>
<line x1="612" y1="311" x2="617.5" y2="311"/>
<line x1="612" y1="358" x2="617.5" y2="358"/>
<line x1="612" y1="405" x2="617.5" y2="405"/>
<line x1="612" y1="452" x2="617.5" y2="452"/>
</g>
<g font-size="12px">
<text x="67.6" y="550.6" text-anchor="middle" textLength="16.04" lengthAdjust="spacingAndGlyphs">-50</text>
<text x="59.9" y="536.4" text-anchor="end" textLength="16.04" lengthAdjust="spacingAndGlyphs">-50</text>
<text x="115.75" y="550.6" text-anchor="middle" textLength="16.04" lengthAdjust="spacingAndGlyphs">-40</text>
<text x="59.9" y="488.25" text-anchor="end" textLength="16.04" lengthAdjust="spacingAndGlyphs">-40</text>
<text x="163.9" y="550.6" text-anchor="middle" textLength="16.04" lengthAdjust="spacingAndGlyphs">-30</text>
<text x="59.9" y="440.1" text-anchor="end" textLength="16.04" lengthAdjust="spacingAndGlyphs">-30</text>
<text x="212.05" y="550.6" text-anchor="middle" textLength="16.04" lengthAdjust="spacingAndGlyphs">-20</text>
<text x="59.9" y="391.95" text-anchor="end" textLength="16.04" lengthAdjust="spacingAndGlyphs">-20</text>
<text x="260.2" y="550.6" text-anchor="middle" textLength="16.04" lengthAdjust="spacingAndGlyphs">-10</text>
<text x="59.9" y="343.8" text-anchor="end" textLength="16.04" lengthAdjust="spacingAndGlyphs">-10</text>
<text x="308.35" y="550.6" text-anchor="middle" textLength="6.17" lengthAdjust="spacingAndGlyphs">0</text>
<text x="59.9" y="295.65" text-anchor="end" textLength="6.17" lengthAdjust="spacingAndGlyphs">0</text>
<text x="356.5" y="550.6" text-anchor="middle" textLength="12.34" lengthAdjust="spacingAndGlyphs">10</text>
<text x="59.9" y="247.5" text-anchor="end" textLength="12.34" lengthAdjust="spacingAndGlyphs">10</text>
<text x="404.65" y="550.6" text-anchor="middle" textLength="12.34" lengthAdjust="spacingAndGlyphs">20</text>
<text x="59.9" y="199.35" text-anchor="end" textLength="12.34" lengthAdjust="spacingAndGlyphs">20</text>
<text x="452.8" y="550.6" text-anchor="middle" textLength="12.34" lengthAdjust="spacingAndGlyphs">30</text>
<text x="59.9" y="151.2" text-anchor="end" textLength="12.34" lengthAdjust="spacingAndGlyphs">30</text>
<text x="500.95" y="550.6" text-anchor="middle" textLength="12.34" lengthAdjust="spacingAndGlyphs">40</text>
<text x="59.9" y="103.05" text-anchor="end" textLength="12.34" lengthAdjust="spacingAndGlyphs">40</text>
<text x="549.1" y="550.6" text-anchor="middle" textLength="12.34" lengthAdjust="spacingAndGlyphs">50</text>
<text x="59.9" y="54.9" text-anchor="end" textLength="12.34" lengthAdjust="spacingAndGlyphs">50</text>
<text x="619.6" y="126.8" textLength="21.6" lengthAdjust="spacingAndGlyphs">2.35</text>
<text x="619.6" y="173.8" textLength="21.6" lengthAdjust="spacingAndGlyphs">2.34</text>
<text x="619.6" y="220.8" textLength="21.6" lengthAdjust="spacingAndGlyphs">2.33</text>
<text x="619.6" y="267.8" textLength="21.6" lengthAdjust="spacingAndGlyphs">2.32</text>
<text x="619.6" y="314.8" textLength="21.6" lengthAdjust="spacingAndGlyphs">2.31</text>
<text x="619.6" y="361.8" textLength="15.43" lengthAdjust="spacingAndGlyphs">2.3</text>
<text x="619.6" y="408.8" textLength="21.6" lengthAdjust="spacingAndGlyphs">2.29</text>
<text x="619.6" y="455.8" textLength="21.6" lengthAdjust="spacingAndGlyphs">2.28</text>
</g>
<text x="308" y="28" text-anchor="middle" font-size="23px" font-weight="bold">#2 Capacitance [pF]</text>
<text x="309.4" y="585.3" text-anchor="middle" font-size="23.3px">X-axis [mm]</text>
<text transform="translate(26.6 291.5) rotate(-90)" text-anchor="middle" font-size="23.2px">Y-axis [mm]</text>
</svg>
</body></html>
